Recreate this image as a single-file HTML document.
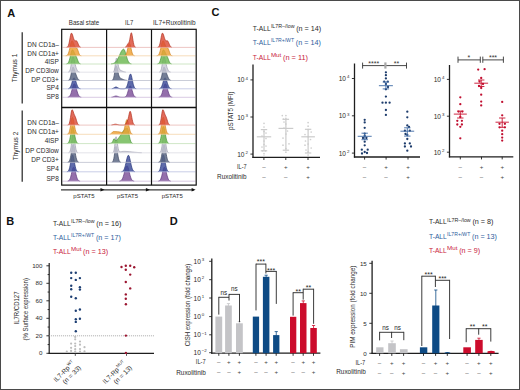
<!DOCTYPE html>
<html><head><meta charset="utf-8"><style>
html,body{margin:0;padding:0;background:#fff;}
svg{display:block;font-family:"Liberation Sans", sans-serif;}
</style></head><body>
<svg width="520" height="390" viewBox="0 0 520 390">
<rect x="0" y="0" width="520" height="390" fill="#fff"/>
<rect x="0.5" y="0.5" width="519" height="389" fill="none" stroke="#4a4a4a" stroke-width="1"/>
<text x="7.20" y="16.50" font-size="11" fill="#111" font-weight="bold">A</text>
<text x="6.20" y="224.90" font-size="11" fill="#111" font-weight="bold">B</text>
<text x="211.60" y="16.40" font-size="11" fill="#111" font-weight="bold">C</text>
<text x="169.80" y="224.70" font-size="11" fill="#111" font-weight="bold">D</text>
<text x="84.00" y="24.90" font-size="6.5" fill="#2b2b2b" text-anchor="middle" textLength="30.40" lengthAdjust="spacingAndGlyphs">Basal state</text>
<text x="129.20" y="24.90" font-size="6.5" fill="#2b2b2b" text-anchor="middle" textLength="8.20" lengthAdjust="spacingAndGlyphs">IL7</text>
<text x="174.30" y="24.90" font-size="6.5" fill="#2b2b2b" text-anchor="middle" textLength="42.60" lengthAdjust="spacingAndGlyphs">IL7+Ruxolitinib</text>
<path d="M67.7,97.20 L68.1,97.13 L68.5,97.00 L68.9,96.81 L69.3,96.51 L69.7,96.07 L70.1,95.47 L70.5,94.67 L70.9,93.66 L71.3,92.43 L71.7,91.03 L72.1,89.50 L72.5,87.95 L72.9,86.49 L73.3,85.25 L73.7,84.34 L74.1,83.86 L74.5,83.86 L74.9,84.29 L75.3,85.13 L75.7,86.27 L76.1,87.64 L76.5,89.11 L76.9,90.59 L77.3,91.97 L77.7,93.21 L78.1,94.26 L78.5,95.12 L78.9,95.78 L79.3,96.28 L79.7,96.64 L80.1,96.88 L80.5,97.05 L80.9,97.15 L81.3,97.21 L81.3,97.30 L67.7,97.30 Z" fill="#7d4f98" fill-opacity="0.82"/>
<path d="M67.7,97.20 L68.1,97.13 L68.5,97.00 L68.9,96.81 L69.3,96.51 L69.7,96.07 L70.1,95.47 L70.5,94.67 L70.9,93.66 L71.3,92.43 L71.7,91.03 L72.1,89.50 L72.5,87.95 L72.9,86.49 L73.3,85.25 L73.7,84.34 L74.1,83.86 L74.5,83.86 L74.9,84.29 L75.3,85.13 L75.7,86.27 L76.1,87.64 L76.5,89.11 L76.9,90.59 L77.3,91.97 L77.7,93.21 L78.1,94.26 L78.5,95.12 L78.9,95.78 L79.3,96.28 L79.7,96.64 L80.1,96.88 L80.5,97.05 L80.9,97.15 L81.3,97.21" fill="none" stroke="#5f377e" stroke-width="0.7"/>
<path d="M68.1,88.71 L68.5,88.63 L68.9,88.50 L69.3,88.28 L69.7,87.95 L70.1,87.46 L70.5,86.78 L70.9,85.89 L71.3,84.79 L71.7,83.51 L72.1,82.13 L72.5,80.75 L72.9,79.50 L73.3,78.52 L73.7,77.94 L74.1,77.81 L74.5,78.11 L74.9,78.77 L75.3,79.72 L75.7,80.87 L76.1,82.13 L76.5,83.38 L76.9,84.56 L77.3,85.60 L77.7,86.47 L78.1,87.16 L78.5,87.69 L78.9,88.08 L79.3,88.34 L79.7,88.52 L80.1,88.64 L80.5,88.71 L80.5,88.80 L68.1,88.80 Z" fill="#3a4b98" fill-opacity="0.82"/>
<path d="M68.1,88.71 L68.5,88.63 L68.9,88.50 L69.3,88.28 L69.7,87.95 L70.1,87.46 L70.5,86.78 L70.9,85.89 L71.3,84.79 L71.7,83.51 L72.1,82.13 L72.5,80.75 L72.9,79.50 L73.3,78.52 L73.7,77.94 L74.1,77.81 L74.5,78.11 L74.9,78.77 L75.3,79.72 L75.7,80.87 L76.1,82.13 L76.5,83.38 L76.9,84.56 L77.3,85.60 L77.7,86.47 L78.1,87.16 L78.5,87.69 L78.9,88.08 L79.3,88.34 L79.7,88.52 L80.1,88.64 L80.5,88.71" fill="none" stroke="#27357a" stroke-width="0.7"/>
<path d="M68.1,80.42 L68.5,80.32 L68.9,80.13 L69.3,79.77 L69.7,79.16 L70.1,78.22 L70.5,76.88 L70.9,75.15 L71.3,73.12 L71.7,71.01 L72.1,69.12 L72.5,67.76 L72.9,67.15 L73.3,67.22 L73.7,67.80 L74.1,68.75 L74.5,69.92 L74.9,71.20 L75.3,72.47 L75.7,73.68 L76.1,74.83 L76.5,75.90 L76.9,76.89 L77.3,77.78 L77.7,78.55 L78.1,79.17 L78.5,79.65 L78.9,79.99 L79.3,80.21 L79.7,80.35 L80.1,80.42 L80.1,80.50 L68.1,80.50 Z" fill="#56617f" fill-opacity="0.82"/>
<path d="M68.1,80.42 L68.5,80.32 L68.9,80.13 L69.3,79.77 L69.7,79.16 L70.1,78.22 L70.5,76.88 L70.9,75.15 L71.3,73.12 L71.7,71.01 L72.1,69.12 L72.5,67.76 L72.9,67.15 L73.3,67.22 L73.7,67.80 L74.1,68.75 L74.5,69.92 L74.9,71.20 L75.3,72.47 L75.7,73.68 L76.1,74.83 L76.5,75.90 L76.9,76.89 L77.3,77.78 L77.7,78.55 L78.1,79.17 L78.5,79.65 L78.9,79.99 L79.3,80.21 L79.7,80.35 L80.1,80.42" fill="none" stroke="#3e4863" stroke-width="0.7"/>
<path d="M68.1,72.15 L68.5,72.07 L68.9,71.89 L69.3,71.54 L69.7,70.91 L70.1,69.86 L70.5,68.30 L70.9,66.20 L71.3,63.69 L71.7,61.06 L72.1,58.73 L72.5,57.13 L72.9,56.56 L73.3,56.89 L73.7,57.93 L74.1,59.48 L74.5,61.27 L74.9,63.09 L75.3,64.80 L75.7,66.32 L76.1,67.64 L76.5,68.76 L76.9,69.70 L77.3,70.45 L77.7,71.04 L78.1,71.47 L78.5,71.77 L78.9,71.96 L79.3,72.07 L79.7,72.14 L79.7,72.20 L68.1,72.20 Z" fill="#c9c9d5" fill-opacity="0.82"/>
<path d="M68.1,72.15 L68.5,72.07 L68.9,71.89 L69.3,71.54 L69.7,70.91 L70.1,69.86 L70.5,68.30 L70.9,66.20 L71.3,63.69 L71.7,61.06 L72.1,58.73 L72.5,57.13 L72.9,56.56 L73.3,56.89 L73.7,57.93 L74.1,59.48 L74.5,61.27 L74.9,63.09 L75.3,64.80 L75.7,66.32 L76.1,67.64 L76.5,68.76 L76.9,69.70 L77.3,70.45 L77.7,71.04 L78.1,71.47 L78.5,71.77 L78.9,71.96 L79.3,72.07 L79.7,72.14" fill="none" stroke="#9d9daf" stroke-width="0.7"/>
<path d="M66.5,63.89 L66.9,63.79 L67.3,63.62 L67.7,63.34 L68.1,62.92 L68.5,62.30 L68.9,61.43 L69.3,60.30 L69.7,58.90 L70.1,57.27 L70.5,55.51 L70.9,53.74 L71.3,52.15 L71.7,50.89 L72.1,50.12 L72.5,49.90 L72.9,50.10 L73.3,50.62 L73.7,51.37 L74.1,52.23 L74.5,53.13 L74.9,53.98 L75.3,54.77 L75.7,55.53 L76.1,56.30 L76.5,57.14 L76.9,58.10 L77.3,59.16 L77.7,60.25 L78.1,61.27 L78.5,62.14 L78.9,62.82 L79.3,63.30 L79.7,63.62 L80.1,63.80 L80.5,63.90 L80.5,64.00 L66.5,64.00 Z" fill="#6cb852" fill-opacity="0.82"/>
<path d="M66.5,63.89 L66.9,63.79 L67.3,63.62 L67.7,63.34 L68.1,62.92 L68.5,62.30 L68.9,61.43 L69.3,60.30 L69.7,58.90 L70.1,57.27 L70.5,55.51 L70.9,53.74 L71.3,52.15 L71.7,50.89 L72.1,50.12 L72.5,49.90 L72.9,50.10 L73.3,50.62 L73.7,51.37 L74.1,52.23 L74.5,53.13 L74.9,53.98 L75.3,54.77 L75.7,55.53 L76.1,56.30 L76.5,57.14 L76.9,58.10 L77.3,59.16 L77.7,60.25 L78.1,61.27 L78.5,62.14 L78.9,62.82 L79.3,63.30 L79.7,63.62 L80.1,63.80 L80.5,63.90" fill="none" stroke="#479536" stroke-width="0.7"/>
<path d="M65.7,55.74 L66.1,55.68 L66.5,55.57 L66.9,55.39 L67.3,55.10 L67.7,54.64 L68.1,53.98 L68.5,53.05 L68.9,51.84 L69.3,50.33 L69.7,48.59 L70.1,46.70 L70.5,44.81 L70.9,43.11 L71.3,41.77 L71.7,40.96 L72.1,40.76 L72.5,41.04 L72.9,41.68 L73.3,42.60 L73.7,43.67 L74.1,44.75 L74.5,45.72 L74.9,46.49 L75.3,47.03 L75.7,47.37 L76.1,47.62 L76.5,47.87 L76.9,48.26 L77.3,48.88 L77.7,49.81 L78.1,50.95 L78.5,52.14 L78.9,53.24 L79.3,54.15 L79.7,54.81 L80.1,55.25 L80.5,55.52 L80.9,55.67 L81.3,55.74 L81.3,55.80 L65.7,55.80 Z" fill="#eea032" fill-opacity="0.82"/>
<path d="M65.7,55.74 L66.1,55.68 L66.5,55.57 L66.9,55.39 L67.3,55.10 L67.7,54.64 L68.1,53.98 L68.5,53.05 L68.9,51.84 L69.3,50.33 L69.7,48.59 L70.1,46.70 L70.5,44.81 L70.9,43.11 L71.3,41.77 L71.7,40.96 L72.1,40.76 L72.5,41.04 L72.9,41.68 L73.3,42.60 L73.7,43.67 L74.1,44.75 L74.5,45.72 L74.9,46.49 L75.3,47.03 L75.7,47.37 L76.1,47.62 L76.5,47.87 L76.9,48.26 L77.3,48.88 L77.7,49.81 L78.1,50.95 L78.5,52.14 L78.9,53.24 L79.3,54.15 L79.7,54.81 L80.1,55.25 L80.5,55.52 L80.9,55.67 L81.3,55.74" fill="none" stroke="#cf8420" stroke-width="0.7"/>
<path d="M66.5,47.33 L66.9,47.24 L67.3,47.06 L67.7,46.72 L68.1,46.14 L68.5,45.21 L68.9,43.86 L69.3,42.07 L69.7,39.93 L70.1,37.64 L70.5,35.53 L70.9,33.95 L71.3,33.19 L71.7,33.26 L72.1,33.86 L72.5,34.87 L72.9,36.12 L73.3,37.45 L73.7,38.67 L74.1,39.66 L74.5,40.33 L74.9,40.69 L75.3,40.80 L75.7,40.78 L76.1,40.76 L76.5,40.86 L76.9,41.20 L77.3,41.84 L77.7,42.72 L78.1,43.71 L78.5,44.68 L78.9,45.54 L79.3,46.21 L79.7,46.69 L80.1,47.00 L80.5,47.20 L80.9,47.30 L80.9,47.40 L66.5,47.40 Z" fill="#dc4a36" fill-opacity="0.82"/>
<path d="M66.5,47.33 L66.9,47.24 L67.3,47.06 L67.7,46.72 L68.1,46.14 L68.5,45.21 L68.9,43.86 L69.3,42.07 L69.7,39.93 L70.1,37.64 L70.5,35.53 L70.9,33.95 L71.3,33.19 L71.7,33.26 L72.1,33.86 L72.5,34.87 L72.9,36.12 L73.3,37.45 L73.7,38.67 L74.1,39.66 L74.5,40.33 L74.9,40.69 L75.3,40.80 L75.7,40.78 L76.1,40.76 L76.5,40.86 L76.9,41.20 L77.3,41.84 L77.7,42.72 L78.1,43.71 L78.5,44.68 L78.9,45.54 L79.3,46.21 L79.7,46.69 L80.1,47.00 L80.5,47.20 L80.9,47.30" fill="none" stroke="#b0301f" stroke-width="0.7"/>
<line x1="62.50" y1="47.40" x2="105.80" y2="47.40" stroke="#e6b0ab" stroke-width="0.9" stroke-opacity="0.8"/>
<line x1="62.50" y1="55.80" x2="105.80" y2="55.80" stroke="#f2d0a2" stroke-width="0.9" stroke-opacity="0.8"/>
<line x1="62.50" y1="64.00" x2="105.80" y2="64.00" stroke="#bcdcb0" stroke-width="0.9" stroke-opacity="0.8"/>
<line x1="62.50" y1="72.20" x2="105.80" y2="72.20" stroke="#d9d9e1" stroke-width="0.9" stroke-opacity="0.8"/>
<line x1="62.50" y1="80.50" x2="105.80" y2="80.50" stroke="#b5bac8" stroke-width="0.9" stroke-opacity="0.8"/>
<line x1="62.50" y1="88.80" x2="105.80" y2="88.80" stroke="#b3badc" stroke-width="0.9" stroke-opacity="0.8"/>
<line x1="62.50" y1="97.30" x2="105.80" y2="97.30" stroke="#ccb6d8" stroke-width="0.9" stroke-opacity="0.8"/>
<path d="M111.4,97.21 L111.8,97.16 L112.2,97.09 L112.6,96.99 L113.0,96.88 L113.4,96.74 L113.8,96.59 L114.2,96.43 L114.6,96.28 L115.0,96.15 L115.4,96.06 L115.8,96.01 L116.2,96.01 L116.6,96.06 L117.0,96.15 L117.4,96.28 L117.8,96.43 L118.2,96.59 L118.6,96.74 L119.0,96.88 L119.4,96.99 L119.8,97.09 L120.2,97.16 L120.6,97.21 L121.0,97.24 L121.4,97.27 L121.8,97.28 L122.2,97.29 L122.6,97.29 L123.0,97.29 L123.4,97.28 L123.8,97.26 L124.2,97.22 L124.6,97.15 L125.0,97.03 L125.4,96.83 L125.8,96.51 L126.2,96.05 L126.6,95.39 L127.0,94.52 L127.4,93.42 L127.8,92.12 L128.2,90.69 L128.6,89.23 L129.0,87.88 L129.4,86.78 L129.8,86.05 L130.2,85.80 L130.6,86.05 L131.0,86.78 L131.4,87.88 L131.8,89.23 L132.2,90.69 L132.6,92.12 L133.0,93.42 L133.4,94.52 L133.8,95.39 L134.2,96.05 L134.6,96.51 L135.0,96.83 L135.4,97.03 L135.8,97.15 L136.2,97.22 L136.2,97.30 L111.4,97.30 Z" fill="#7d4f98" fill-opacity="0.82"/>
<path d="M111.4,97.21 L111.8,97.16 L112.2,97.09 L112.6,96.99 L113.0,96.88 L113.4,96.74 L113.8,96.59 L114.2,96.43 L114.6,96.28 L115.0,96.15 L115.4,96.06 L115.8,96.01 L116.2,96.01 L116.6,96.06 L117.0,96.15 L117.4,96.28 L117.8,96.43 L118.2,96.59 L118.6,96.74 L119.0,96.88 L119.4,96.99 L119.8,97.09 L120.2,97.16 L120.6,97.21 L121.0,97.24 L121.4,97.27 L121.8,97.28 L122.2,97.29 L122.6,97.29 L123.0,97.29 L123.4,97.28 L123.8,97.26 L124.2,97.22 L124.6,97.15 L125.0,97.03 L125.4,96.83 L125.8,96.51 L126.2,96.05 L126.6,95.39 L127.0,94.52 L127.4,93.42 L127.8,92.12 L128.2,90.69 L128.6,89.23 L129.0,87.88 L129.4,86.78 L129.8,86.05 L130.2,85.80 L130.6,86.05 L131.0,86.78 L131.4,87.88 L131.8,89.23 L132.2,90.69 L132.6,92.12 L133.0,93.42 L133.4,94.52 L133.8,95.39 L134.2,96.05 L134.6,96.51 L135.0,96.83 L135.4,97.03 L135.8,97.15 L136.2,97.22" fill="none" stroke="#5f377e" stroke-width="0.7"/>
<path d="M111.8,88.68 L112.2,88.61 L112.6,88.50 L113.0,88.35 L113.4,88.17 L113.8,87.95 L114.2,87.71 L114.6,87.47 L115.0,87.26 L115.4,87.10 L115.8,87.01 L116.2,87.01 L116.6,87.10 L117.0,87.26 L117.4,87.47 L117.8,87.71 L118.2,87.95 L118.6,88.17 L119.0,88.35 L119.4,88.50 L119.8,88.61 L120.2,88.68 L120.6,88.73 L121.0,88.76 L121.4,88.78 L121.8,88.79 L122.2,88.79 L122.6,88.80 L123.0,88.79 L123.4,88.79 L123.8,88.77 L124.2,88.74 L124.6,88.68 L125.0,88.58 L125.4,88.40 L125.8,88.11 L126.2,87.66 L126.6,87.00 L127.0,86.09 L127.4,84.89 L127.8,83.41 L128.2,81.69 L128.6,79.82 L129.0,77.96 L129.4,76.28 L129.8,74.97 L130.2,74.18 L130.6,74.02 L131.0,74.56 L131.4,75.74 L131.8,77.40 L132.2,79.33 L132.6,81.31 L133.0,83.16 L133.4,84.76 L133.8,86.04 L134.2,87.01 L134.6,87.69 L135.0,88.15 L135.4,88.44 L135.8,88.61 L136.2,88.70 L136.2,88.80 L111.8,88.80 Z" fill="#3a4b98" fill-opacity="0.82"/>
<path d="M111.8,88.68 L112.2,88.61 L112.6,88.50 L113.0,88.35 L113.4,88.17 L113.8,87.95 L114.2,87.71 L114.6,87.47 L115.0,87.26 L115.4,87.10 L115.8,87.01 L116.2,87.01 L116.6,87.10 L117.0,87.26 L117.4,87.47 L117.8,87.71 L118.2,87.95 L118.6,88.17 L119.0,88.35 L119.4,88.50 L119.8,88.61 L120.2,88.68 L120.6,88.73 L121.0,88.76 L121.4,88.78 L121.8,88.79 L122.2,88.79 L122.6,88.80 L123.0,88.79 L123.4,88.79 L123.8,88.77 L124.2,88.74 L124.6,88.68 L125.0,88.58 L125.4,88.40 L125.8,88.11 L126.2,87.66 L126.6,87.00 L127.0,86.09 L127.4,84.89 L127.8,83.41 L128.2,81.69 L128.6,79.82 L129.0,77.96 L129.4,76.28 L129.8,74.97 L130.2,74.18 L130.6,74.02 L131.0,74.56 L131.4,75.74 L131.8,77.40 L132.2,79.33 L132.6,81.31 L133.0,83.16 L133.4,84.76 L133.8,86.04 L134.2,87.01 L134.6,87.69 L135.0,88.15 L135.4,88.44 L135.8,88.61 L136.2,88.70" fill="none" stroke="#27357a" stroke-width="0.7"/>
<path d="M111.8,80.40 L112.2,80.26 L112.6,79.98 L113.0,79.46 L113.4,78.58 L113.8,77.24 L114.2,75.39 L114.6,73.10 L115.0,70.63 L115.4,68.34 L115.8,66.66 L116.2,65.94 L116.6,66.22 L117.0,67.35 L117.4,69.07 L117.8,71.04 L118.2,72.96 L118.6,74.62 L119.0,75.92 L119.4,76.86 L119.8,77.53 L120.2,77.96 L120.6,78.25 L121.0,78.47 L121.4,78.67 L121.8,78.85 L122.2,79.03 L122.6,79.21 L123.0,79.39 L123.4,79.55 L123.8,79.71 L124.2,79.86 L124.6,79.98 L125.0,80.09 L125.4,80.18 L125.8,80.26 L126.2,80.32 L126.6,80.37 L127.0,80.40 L127.0,80.50 L111.8,80.50 Z" fill="#56617f" fill-opacity="0.82"/>
<path d="M111.8,80.40 L112.2,80.26 L112.6,79.98 L113.0,79.46 L113.4,78.58 L113.8,77.24 L114.2,75.39 L114.6,73.10 L115.0,70.63 L115.4,68.34 L115.8,66.66 L116.2,65.94 L116.6,66.22 L117.0,67.35 L117.4,69.07 L117.8,71.04 L118.2,72.96 L118.6,74.62 L119.0,75.92 L119.4,76.86 L119.8,77.53 L120.2,77.96 L120.6,78.25 L121.0,78.47 L121.4,78.67 L121.8,78.85 L122.2,79.03 L122.6,79.21 L123.0,79.39 L123.4,79.55 L123.8,79.71 L124.2,79.86 L124.6,79.98 L125.0,80.09 L125.4,80.18 L125.8,80.26 L126.2,80.32 L126.6,80.37 L127.0,80.40" fill="none" stroke="#3e4863" stroke-width="0.7"/>
<path d="M113.0,72.10 L113.4,71.93 L113.8,71.50 L114.2,70.62 L114.6,69.06 L115.0,66.71 L115.4,63.77 L115.8,60.81 L116.2,58.68 L116.6,58.04 L117.0,58.75 L117.4,60.42 L117.8,62.62 L118.2,64.84 L118.6,66.73 L119.0,68.14 L119.4,69.08 L119.8,69.68 L120.2,70.04 L120.6,70.29 L121.0,70.50 L121.4,70.69 L121.8,70.89 L122.2,71.08 L122.6,71.27 L123.0,71.45 L123.4,71.61 L123.8,71.74 L124.2,71.86 L124.6,71.95 L125.0,72.02 L125.4,72.08 L125.8,72.12 L125.8,72.20 L113.0,72.20 Z" fill="#c9c9d5" fill-opacity="0.82"/>
<path d="M113.0,72.10 L113.4,71.93 L113.8,71.50 L114.2,70.62 L114.6,69.06 L115.0,66.71 L115.4,63.77 L115.8,60.81 L116.2,58.68 L116.6,58.04 L117.0,58.75 L117.4,60.42 L117.8,62.62 L118.2,64.84 L118.6,66.73 L119.0,68.14 L119.4,69.08 L119.8,69.68 L120.2,70.04 L120.6,70.29 L121.0,70.50 L121.4,70.69 L121.8,70.89 L122.2,71.08 L122.6,71.27 L123.0,71.45 L123.4,71.61 L123.8,71.74 L124.2,71.86 L124.6,71.95 L125.0,72.02 L125.4,72.08 L125.8,72.12" fill="none" stroke="#9d9daf" stroke-width="0.7"/>
<path d="M111.0,63.90 L111.4,63.86 L111.8,63.81 L112.2,63.75 L112.6,63.66 L113.0,63.56 L113.4,63.43 L113.8,63.26 L114.2,63.06 L114.6,62.82 L115.0,62.53 L115.4,62.19 L115.8,61.79 L116.2,61.33 L116.6,60.80 L117.0,60.21 L117.4,59.55 L117.8,58.83 L118.2,58.05 L118.6,57.22 L119.0,56.36 L119.4,55.47 L119.8,54.57 L120.2,53.69 L120.6,52.83 L121.0,52.02 L121.4,51.28 L121.8,50.63 L122.2,50.08 L122.6,49.66 L123.0,49.37 L123.4,49.22 L123.8,49.25 L124.2,49.62 L124.6,50.34 L125.0,51.35 L125.4,52.58 L125.8,53.95 L126.2,55.38 L126.6,56.80 L127.0,58.13 L127.4,59.34 L127.8,60.39 L128.2,61.28 L128.6,62.00 L129.0,62.56 L129.4,63.00 L129.8,63.32 L130.2,63.55 L130.6,63.71 L131.0,63.81 L131.4,63.89 L131.4,64.00 L111.0,64.00 Z" fill="#6cb852" fill-opacity="0.82"/>
<path d="M111.0,63.90 L111.4,63.86 L111.8,63.81 L112.2,63.75 L112.6,63.66 L113.0,63.56 L113.4,63.43 L113.8,63.26 L114.2,63.06 L114.6,62.82 L115.0,62.53 L115.4,62.19 L115.8,61.79 L116.2,61.33 L116.6,60.80 L117.0,60.21 L117.4,59.55 L117.8,58.83 L118.2,58.05 L118.6,57.22 L119.0,56.36 L119.4,55.47 L119.8,54.57 L120.2,53.69 L120.6,52.83 L121.0,52.02 L121.4,51.28 L121.8,50.63 L122.2,50.08 L122.6,49.66 L123.0,49.37 L123.4,49.22 L123.8,49.25 L124.2,49.62 L124.6,50.34 L125.0,51.35 L125.4,52.58 L125.8,53.95 L126.2,55.38 L126.6,56.80 L127.0,58.13 L127.4,59.34 L127.8,60.39 L128.2,61.28 L128.6,62.00 L129.0,62.56 L129.4,63.00 L129.8,63.32 L130.2,63.55 L130.6,63.71 L131.0,63.81 L131.4,63.89" fill="none" stroke="#479536" stroke-width="0.7"/>
<path d="M124.2,55.74 L124.6,55.66 L125.0,55.52 L125.4,55.25 L125.8,54.81 L126.2,54.11 L126.6,53.10 L127.0,51.74 L127.4,50.08 L127.8,48.22 L128.2,46.36 L128.6,44.77 L129.0,43.68 L129.4,43.30 L129.8,43.68 L130.2,44.77 L130.6,46.36 L131.0,48.22 L131.4,50.08 L131.8,51.74 L132.2,53.10 L132.6,54.11 L133.0,54.81 L133.4,55.25 L133.8,55.52 L134.2,55.66 L134.6,55.74 L134.6,55.80 L124.2,55.80 Z" fill="#eea032" fill-opacity="0.82"/>
<path d="M124.2,55.74 L124.6,55.66 L125.0,55.52 L125.4,55.25 L125.8,54.81 L126.2,54.11 L126.6,53.10 L127.0,51.74 L127.4,50.08 L127.8,48.22 L128.2,46.36 L128.6,44.77 L129.0,43.68 L129.4,43.30 L129.8,43.68 L130.2,44.77 L130.6,46.36 L131.0,48.22 L131.4,50.08 L131.8,51.74 L132.2,53.10 L132.6,54.11 L133.0,54.81 L133.4,55.25 L133.8,55.52 L134.2,55.66 L134.6,55.74" fill="none" stroke="#cf8420" stroke-width="0.7"/>
<path d="M125.0,47.30 L125.4,47.17 L125.8,46.93 L126.2,46.53 L126.6,45.95 L127.0,45.25 L127.4,44.52 L127.8,43.88 L128.2,43.38 L128.6,42.94 L129.0,42.29 L129.4,41.14 L129.8,39.32 L130.2,37.00 L130.6,34.69 L131.0,33.12 L131.4,32.84 L131.8,33.76 L132.2,35.59 L132.6,37.97 L133.0,40.46 L133.4,42.69 L133.8,44.46 L134.2,45.70 L134.6,46.50 L135.0,46.96 L135.4,47.20 L135.8,47.32 L135.8,47.40 L125.0,47.40 Z" fill="#dc4a36" fill-opacity="0.82"/>
<path d="M125.0,47.30 L125.4,47.17 L125.8,46.93 L126.2,46.53 L126.6,45.95 L127.0,45.25 L127.4,44.52 L127.8,43.88 L128.2,43.38 L128.6,42.94 L129.0,42.29 L129.4,41.14 L129.8,39.32 L130.2,37.00 L130.6,34.69 L131.0,33.12 L131.4,32.84 L131.8,33.76 L132.2,35.59 L132.6,37.97 L133.0,40.46 L133.4,42.69 L133.8,44.46 L134.2,45.70 L134.6,46.50 L135.0,46.96 L135.4,47.20 L135.8,47.32" fill="none" stroke="#b0301f" stroke-width="0.7"/>
<line x1="107.40" y1="47.40" x2="150.70" y2="47.40" stroke="#e6b0ab" stroke-width="0.9" stroke-opacity="0.8"/>
<line x1="107.40" y1="55.80" x2="150.70" y2="55.80" stroke="#f2d0a2" stroke-width="0.9" stroke-opacity="0.8"/>
<line x1="107.40" y1="64.00" x2="150.70" y2="64.00" stroke="#bcdcb0" stroke-width="0.9" stroke-opacity="0.8"/>
<line x1="107.40" y1="72.20" x2="150.70" y2="72.20" stroke="#d9d9e1" stroke-width="0.9" stroke-opacity="0.8"/>
<line x1="107.40" y1="80.50" x2="150.70" y2="80.50" stroke="#b5bac8" stroke-width="0.9" stroke-opacity="0.8"/>
<line x1="107.40" y1="88.80" x2="150.70" y2="88.80" stroke="#b3badc" stroke-width="0.9" stroke-opacity="0.8"/>
<line x1="107.40" y1="97.30" x2="150.70" y2="97.30" stroke="#ccb6d8" stroke-width="0.9" stroke-opacity="0.8"/>
<path d="M158.7,97.20 L159.1,97.13 L159.5,97.00 L159.9,96.81 L160.3,96.51 L160.7,96.07 L161.1,95.47 L161.5,94.67 L161.9,93.66 L162.3,92.43 L162.7,91.03 L163.1,89.50 L163.5,87.95 L163.9,86.49 L164.3,85.25 L164.7,84.34 L165.1,83.86 L165.5,83.86 L165.9,84.29 L166.3,85.13 L166.7,86.27 L167.1,87.64 L167.5,89.11 L167.9,90.59 L168.3,91.97 L168.7,93.21 L169.1,94.26 L169.5,95.12 L169.9,95.78 L170.3,96.28 L170.7,96.64 L171.1,96.88 L171.5,97.05 L171.9,97.15 L172.3,97.21 L172.3,97.30 L158.7,97.30 Z" fill="#7d4f98" fill-opacity="0.82"/>
<path d="M158.7,97.20 L159.1,97.13 L159.5,97.00 L159.9,96.81 L160.3,96.51 L160.7,96.07 L161.1,95.47 L161.5,94.67 L161.9,93.66 L162.3,92.43 L162.7,91.03 L163.1,89.50 L163.5,87.95 L163.9,86.49 L164.3,85.25 L164.7,84.34 L165.1,83.86 L165.5,83.86 L165.9,84.29 L166.3,85.13 L166.7,86.27 L167.1,87.64 L167.5,89.11 L167.9,90.59 L168.3,91.97 L168.7,93.21 L169.1,94.26 L169.5,95.12 L169.9,95.78 L170.3,96.28 L170.7,96.64 L171.1,96.88 L171.5,97.05 L171.9,97.15 L172.3,97.21" fill="none" stroke="#5f377e" stroke-width="0.7"/>
<path d="M159.1,88.71 L159.5,88.63 L159.9,88.50 L160.3,88.28 L160.7,87.95 L161.1,87.46 L161.5,86.78 L161.9,85.89 L162.3,84.79 L162.7,83.51 L163.1,82.13 L163.5,80.75 L163.9,79.50 L164.3,78.52 L164.7,77.94 L165.1,77.81 L165.5,78.11 L165.9,78.77 L166.3,79.72 L166.7,80.87 L167.1,82.13 L167.5,83.38 L167.9,84.56 L168.3,85.60 L168.7,86.47 L169.1,87.16 L169.5,87.69 L169.9,88.08 L170.3,88.34 L170.7,88.52 L171.1,88.64 L171.5,88.71 L171.5,88.80 L159.1,88.80 Z" fill="#3a4b98" fill-opacity="0.82"/>
<path d="M159.1,88.71 L159.5,88.63 L159.9,88.50 L160.3,88.28 L160.7,87.95 L161.1,87.46 L161.5,86.78 L161.9,85.89 L162.3,84.79 L162.7,83.51 L163.1,82.13 L163.5,80.75 L163.9,79.50 L164.3,78.52 L164.7,77.94 L165.1,77.81 L165.5,78.11 L165.9,78.77 L166.3,79.72 L166.7,80.87 L167.1,82.13 L167.5,83.38 L167.9,84.56 L168.3,85.60 L168.7,86.47 L169.1,87.16 L169.5,87.69 L169.9,88.08 L170.3,88.34 L170.7,88.52 L171.1,88.64 L171.5,88.71" fill="none" stroke="#27357a" stroke-width="0.7"/>
<path d="M159.1,80.42 L159.5,80.32 L159.9,80.13 L160.3,79.77 L160.7,79.16 L161.1,78.22 L161.5,76.88 L161.9,75.15 L162.3,73.12 L162.7,71.01 L163.1,69.12 L163.5,67.76 L163.9,67.15 L164.3,67.22 L164.7,67.80 L165.1,68.75 L165.5,69.92 L165.9,71.20 L166.3,72.47 L166.7,73.68 L167.1,74.83 L167.5,75.90 L167.9,76.89 L168.3,77.78 L168.7,78.55 L169.1,79.17 L169.5,79.65 L169.9,79.99 L170.3,80.21 L170.7,80.35 L171.1,80.42 L171.1,80.50 L159.1,80.50 Z" fill="#56617f" fill-opacity="0.82"/>
<path d="M159.1,80.42 L159.5,80.32 L159.9,80.13 L160.3,79.77 L160.7,79.16 L161.1,78.22 L161.5,76.88 L161.9,75.15 L162.3,73.12 L162.7,71.01 L163.1,69.12 L163.5,67.76 L163.9,67.15 L164.3,67.22 L164.7,67.80 L165.1,68.75 L165.5,69.92 L165.9,71.20 L166.3,72.47 L166.7,73.68 L167.1,74.83 L167.5,75.90 L167.9,76.89 L168.3,77.78 L168.7,78.55 L169.1,79.17 L169.5,79.65 L169.9,79.99 L170.3,80.21 L170.7,80.35 L171.1,80.42" fill="none" stroke="#3e4863" stroke-width="0.7"/>
<path d="M159.1,72.15 L159.5,72.07 L159.9,71.89 L160.3,71.54 L160.7,70.91 L161.1,69.86 L161.5,68.30 L161.9,66.20 L162.3,63.69 L162.7,61.06 L163.1,58.73 L163.5,57.13 L163.9,56.56 L164.3,56.89 L164.7,57.93 L165.1,59.48 L165.5,61.27 L165.9,63.09 L166.3,64.80 L166.7,66.32 L167.1,67.64 L167.5,68.76 L167.9,69.70 L168.3,70.45 L168.7,71.04 L169.1,71.47 L169.5,71.77 L169.9,71.96 L170.3,72.07 L170.7,72.14 L170.7,72.20 L159.1,72.20 Z" fill="#c9c9d5" fill-opacity="0.82"/>
<path d="M159.1,72.15 L159.5,72.07 L159.9,71.89 L160.3,71.54 L160.7,70.91 L161.1,69.86 L161.5,68.30 L161.9,66.20 L162.3,63.69 L162.7,61.06 L163.1,58.73 L163.5,57.13 L163.9,56.56 L164.3,56.89 L164.7,57.93 L165.1,59.48 L165.5,61.27 L165.9,63.09 L166.3,64.80 L166.7,66.32 L167.1,67.64 L167.5,68.76 L167.9,69.70 L168.3,70.45 L168.7,71.04 L169.1,71.47 L169.5,71.77 L169.9,71.96 L170.3,72.07 L170.7,72.14" fill="none" stroke="#9d9daf" stroke-width="0.7"/>
<path d="M157.5,63.89 L157.9,63.79 L158.3,63.62 L158.7,63.34 L159.1,62.92 L159.5,62.30 L159.9,61.43 L160.3,60.30 L160.7,58.90 L161.1,57.27 L161.5,55.51 L161.9,53.74 L162.3,52.15 L162.7,50.89 L163.1,50.12 L163.5,49.90 L163.9,50.10 L164.3,50.62 L164.7,51.37 L165.1,52.23 L165.5,53.13 L165.9,53.98 L166.3,54.77 L166.7,55.53 L167.1,56.30 L167.5,57.14 L167.9,58.10 L168.3,59.16 L168.7,60.25 L169.1,61.27 L169.5,62.14 L169.9,62.82 L170.3,63.30 L170.7,63.62 L171.1,63.80 L171.5,63.90 L171.5,64.00 L157.5,64.00 Z" fill="#6cb852" fill-opacity="0.82"/>
<path d="M157.5,63.89 L157.9,63.79 L158.3,63.62 L158.7,63.34 L159.1,62.92 L159.5,62.30 L159.9,61.43 L160.3,60.30 L160.7,58.90 L161.1,57.27 L161.5,55.51 L161.9,53.74 L162.3,52.15 L162.7,50.89 L163.1,50.12 L163.5,49.90 L163.9,50.10 L164.3,50.62 L164.7,51.37 L165.1,52.23 L165.5,53.13 L165.9,53.98 L166.3,54.77 L166.7,55.53 L167.1,56.30 L167.5,57.14 L167.9,58.10 L168.3,59.16 L168.7,60.25 L169.1,61.27 L169.5,62.14 L169.9,62.82 L170.3,63.30 L170.7,63.62 L171.1,63.80 L171.5,63.90" fill="none" stroke="#479536" stroke-width="0.7"/>
<path d="M156.7,55.74 L157.1,55.68 L157.5,55.57 L157.9,55.39 L158.3,55.10 L158.7,54.64 L159.1,53.98 L159.5,53.05 L159.9,51.84 L160.3,50.33 L160.7,48.59 L161.1,46.70 L161.5,44.81 L161.9,43.11 L162.3,41.77 L162.7,40.96 L163.1,40.76 L163.5,41.04 L163.9,41.68 L164.3,42.60 L164.7,43.67 L165.1,44.75 L165.5,45.72 L165.9,46.49 L166.3,47.03 L166.7,47.37 L167.1,47.62 L167.5,47.87 L167.9,48.26 L168.3,48.88 L168.7,49.81 L169.1,50.95 L169.5,52.14 L169.9,53.24 L170.3,54.15 L170.7,54.81 L171.1,55.25 L171.5,55.52 L171.9,55.67 L172.3,55.74 L172.3,55.80 L156.7,55.80 Z" fill="#eea032" fill-opacity="0.82"/>
<path d="M156.7,55.74 L157.1,55.68 L157.5,55.57 L157.9,55.39 L158.3,55.10 L158.7,54.64 L159.1,53.98 L159.5,53.05 L159.9,51.84 L160.3,50.33 L160.7,48.59 L161.1,46.70 L161.5,44.81 L161.9,43.11 L162.3,41.77 L162.7,40.96 L163.1,40.76 L163.5,41.04 L163.9,41.68 L164.3,42.60 L164.7,43.67 L165.1,44.75 L165.5,45.72 L165.9,46.49 L166.3,47.03 L166.7,47.37 L167.1,47.62 L167.5,47.87 L167.9,48.26 L168.3,48.88 L168.7,49.81 L169.1,50.95 L169.5,52.14 L169.9,53.24 L170.3,54.15 L170.7,54.81 L171.1,55.25 L171.5,55.52 L171.9,55.67 L172.3,55.74" fill="none" stroke="#cf8420" stroke-width="0.7"/>
<path d="M157.5,47.33 L157.9,47.24 L158.3,47.06 L158.7,46.72 L159.1,46.14 L159.5,45.21 L159.9,43.86 L160.3,42.07 L160.7,39.93 L161.1,37.64 L161.5,35.53 L161.9,33.95 L162.3,33.19 L162.7,33.26 L163.1,33.86 L163.5,34.87 L163.9,36.12 L164.3,37.45 L164.7,38.67 L165.1,39.66 L165.5,40.33 L165.9,40.69 L166.3,40.80 L166.7,40.78 L167.1,40.76 L167.5,40.86 L167.9,41.20 L168.3,41.84 L168.7,42.72 L169.1,43.71 L169.5,44.68 L169.9,45.54 L170.3,46.21 L170.7,46.69 L171.1,47.00 L171.5,47.20 L171.9,47.30 L171.9,47.40 L157.5,47.40 Z" fill="#dc4a36" fill-opacity="0.82"/>
<path d="M157.5,47.33 L157.9,47.24 L158.3,47.06 L158.7,46.72 L159.1,46.14 L159.5,45.21 L159.9,43.86 L160.3,42.07 L160.7,39.93 L161.1,37.64 L161.5,35.53 L161.9,33.95 L162.3,33.19 L162.7,33.26 L163.1,33.86 L163.5,34.87 L163.9,36.12 L164.3,37.45 L164.7,38.67 L165.1,39.66 L165.5,40.33 L165.9,40.69 L166.3,40.80 L166.7,40.78 L167.1,40.76 L167.5,40.86 L167.9,41.20 L168.3,41.84 L168.7,42.72 L169.1,43.71 L169.5,44.68 L169.9,45.54 L170.3,46.21 L170.7,46.69 L171.1,47.00 L171.5,47.20 L171.9,47.30" fill="none" stroke="#b0301f" stroke-width="0.7"/>
<line x1="152.30" y1="47.40" x2="195.40" y2="47.40" stroke="#e6b0ab" stroke-width="0.9" stroke-opacity="0.8"/>
<line x1="152.30" y1="55.80" x2="195.40" y2="55.80" stroke="#f2d0a2" stroke-width="0.9" stroke-opacity="0.8"/>
<line x1="152.30" y1="64.00" x2="195.40" y2="64.00" stroke="#bcdcb0" stroke-width="0.9" stroke-opacity="0.8"/>
<line x1="152.30" y1="72.20" x2="195.40" y2="72.20" stroke="#d9d9e1" stroke-width="0.9" stroke-opacity="0.8"/>
<line x1="152.30" y1="80.50" x2="195.40" y2="80.50" stroke="#b5bac8" stroke-width="0.9" stroke-opacity="0.8"/>
<line x1="152.30" y1="88.80" x2="195.40" y2="88.80" stroke="#b3badc" stroke-width="0.9" stroke-opacity="0.8"/>
<line x1="152.30" y1="97.30" x2="195.40" y2="97.30" stroke="#ccb6d8" stroke-width="0.9" stroke-opacity="0.8"/>
<path d="M67.7,181.09 L68.1,180.99 L68.5,180.82 L68.9,180.54 L69.3,180.12 L69.7,179.50 L70.1,178.63 L70.5,177.50 L70.9,176.10 L71.3,174.47 L71.7,172.71 L72.1,170.95 L72.5,169.36 L72.9,168.12 L73.3,167.37 L73.7,167.22 L74.1,167.63 L74.5,168.55 L74.9,169.87 L75.3,171.44 L75.7,173.13 L76.1,174.79 L76.5,176.31 L76.9,177.61 L77.3,178.67 L77.7,179.49 L78.1,180.09 L78.5,180.50 L78.9,180.78 L79.3,180.96 L79.7,181.07 L80.1,181.13 L80.1,181.20 L67.7,181.20 Z" fill="#7d4f98" fill-opacity="0.82"/>
<path d="M67.7,181.09 L68.1,180.99 L68.5,180.82 L68.9,180.54 L69.3,180.12 L69.7,179.50 L70.1,178.63 L70.5,177.50 L70.9,176.10 L71.3,174.47 L71.7,172.71 L72.1,170.95 L72.5,169.36 L72.9,168.12 L73.3,167.37 L73.7,167.22 L74.1,167.63 L74.5,168.55 L74.9,169.87 L75.3,171.44 L75.7,173.13 L76.1,174.79 L76.5,176.31 L76.9,177.61 L77.3,178.67 L77.7,179.49 L78.1,180.09 L78.5,180.50 L78.9,180.78 L79.3,180.96 L79.7,181.07 L80.1,181.13" fill="none" stroke="#5f377e" stroke-width="0.7"/>
<path d="M66.9,171.73 L67.3,171.64 L67.7,171.48 L68.1,171.20 L68.5,170.73 L68.9,169.99 L69.3,168.91 L69.7,167.42 L70.1,165.52 L70.5,163.29 L70.9,160.88 L71.3,158.55 L71.7,156.58 L72.1,155.26 L72.5,154.80 L72.9,155.21 L73.3,156.40 L73.7,158.19 L74.1,160.35 L74.5,162.63 L74.9,164.81 L75.3,166.73 L75.7,168.30 L76.1,169.50 L76.5,170.36 L76.9,170.94 L77.3,171.31 L77.7,171.54 L78.1,171.67 L78.5,171.73 L78.5,171.80 L66.9,171.80 Z" fill="#3a4b98" fill-opacity="0.82"/>
<path d="M66.9,171.73 L67.3,171.64 L67.7,171.48 L68.1,171.20 L68.5,170.73 L68.9,169.99 L69.3,168.91 L69.7,167.42 L70.1,165.52 L70.5,163.29 L70.9,160.88 L71.3,158.55 L71.7,156.58 L72.1,155.26 L72.5,154.80 L72.9,155.21 L73.3,156.40 L73.7,158.19 L74.1,160.35 L74.5,162.63 L74.9,164.81 L75.3,166.73 L75.7,168.30 L76.1,169.50 L76.5,170.36 L76.9,170.94 L77.3,171.31 L77.7,171.54 L78.1,171.67 L78.5,171.73" fill="none" stroke="#27357a" stroke-width="0.7"/>
<path d="M67.7,162.30 L68.1,162.20 L68.5,162.01 L68.9,161.67 L69.3,161.10 L69.7,160.24 L70.1,158.99 L70.5,157.30 L70.9,155.19 L71.3,152.76 L71.7,150.20 L72.1,147.80 L72.5,145.86 L72.9,144.68 L73.3,144.43 L73.7,145.08 L74.1,146.52 L74.5,148.53 L74.9,150.88 L75.3,153.29 L75.7,155.54 L76.1,157.48 L76.5,159.05 L76.9,160.22 L77.3,161.06 L77.7,161.61 L78.1,161.96 L78.5,162.16 L78.9,162.28 L78.9,162.40 L67.7,162.40 Z" fill="#56617f" fill-opacity="0.82"/>
<path d="M67.7,162.30 L68.1,162.20 L68.5,162.01 L68.9,161.67 L69.3,161.10 L69.7,160.24 L70.1,158.99 L70.5,157.30 L70.9,155.19 L71.3,152.76 L71.7,150.20 L72.1,147.80 L72.5,145.86 L72.9,144.68 L73.3,144.43 L73.7,145.08 L74.1,146.52 L74.5,148.53 L74.9,150.88 L75.3,153.29 L75.7,155.54 L76.1,157.48 L76.5,159.05 L76.9,160.22 L77.3,161.06 L77.7,161.61 L78.1,161.96 L78.5,162.16 L78.9,162.28" fill="none" stroke="#3e4863" stroke-width="0.7"/>
<path d="M68.5,152.73 L68.9,152.63 L69.3,152.41 L69.7,151.97 L70.1,151.16 L70.5,149.84 L70.9,147.87 L71.3,145.24 L71.7,142.10 L72.1,138.85 L72.5,136.03 L72.9,134.23 L73.3,133.84 L73.7,134.83 L74.1,136.93 L74.5,139.75 L74.9,142.80 L75.3,145.67 L75.7,148.06 L76.1,149.87 L76.5,151.11 L76.9,151.89 L77.3,152.35 L77.7,152.59 L78.1,152.71 L78.1,152.80 L68.5,152.80 Z" fill="#c9c9d5" fill-opacity="0.82"/>
<path d="M68.5,152.73 L68.9,152.63 L69.3,152.41 L69.7,151.97 L70.1,151.16 L70.5,149.84 L70.9,147.87 L71.3,145.24 L71.7,142.10 L72.1,138.85 L72.5,136.03 L72.9,134.23 L73.3,133.84 L73.7,134.83 L74.1,136.93 L74.5,139.75 L74.9,142.80 L75.3,145.67 L75.7,148.06 L76.1,149.87 L76.5,151.11 L76.9,151.89 L77.3,152.35 L77.7,152.59 L78.1,152.71" fill="none" stroke="#9d9daf" stroke-width="0.7"/>
<path d="M66.9,143.54 L67.3,143.47 L67.7,143.33 L68.1,143.09 L68.5,142.67 L68.9,142.01 L69.3,141.02 L69.7,139.63 L70.1,137.83 L70.5,135.67 L70.9,133.29 L71.3,130.91 L71.7,128.82 L72.1,127.32 L72.5,126.63 L72.9,126.83 L73.3,127.84 L73.7,129.50 L74.1,131.59 L74.5,133.86 L74.9,136.09 L75.3,138.08 L75.7,139.74 L76.1,141.03 L76.5,141.97 L76.9,142.62 L77.3,143.04 L77.7,143.29 L78.1,143.44 L78.5,143.52 L78.5,143.60 L66.9,143.60 Z" fill="#6cb852" fill-opacity="0.82"/>
<path d="M66.9,143.54 L67.3,143.47 L67.7,143.33 L68.1,143.09 L68.5,142.67 L68.9,142.01 L69.3,141.02 L69.7,139.63 L70.1,137.83 L70.5,135.67 L70.9,133.29 L71.3,130.91 L71.7,128.82 L72.1,127.32 L72.5,126.63 L72.9,126.83 L73.3,127.84 L73.7,129.50 L74.1,131.59 L74.5,133.86 L74.9,136.09 L75.3,138.08 L75.7,139.74 L76.1,141.03 L76.5,141.97 L76.9,142.62 L77.3,143.04 L77.7,143.29 L78.1,143.44 L78.5,143.52" fill="none" stroke="#479536" stroke-width="0.7"/>
<path d="M67.3,134.19 L67.7,134.07 L68.1,133.84 L68.5,133.43 L68.9,132.75 L69.3,131.70 L69.7,130.21 L70.1,128.25 L70.5,125.90 L70.9,123.35 L71.3,120.88 L71.7,118.85 L72.1,117.60 L72.5,117.33 L72.9,117.94 L73.3,119.30 L73.7,121.20 L74.1,123.42 L74.5,125.69 L74.9,127.82 L75.3,129.66 L75.7,131.13 L76.1,132.24 L76.5,133.03 L76.9,133.55 L77.3,133.88 L77.7,134.08 L78.1,134.19 L78.1,134.30 L67.3,134.30 Z" fill="#eea032" fill-opacity="0.82"/>
<path d="M67.3,134.19 L67.7,134.07 L68.1,133.84 L68.5,133.43 L68.9,132.75 L69.3,131.70 L69.7,130.21 L70.1,128.25 L70.5,125.90 L70.9,123.35 L71.3,120.88 L71.7,118.85 L72.1,117.60 L72.5,117.33 L72.9,117.94 L73.3,119.30 L73.7,121.20 L74.1,123.42 L74.5,125.69 L74.9,127.82 L75.3,129.66 L75.7,131.13 L76.1,132.24 L76.5,133.03 L76.9,133.55 L77.3,133.88 L77.7,134.08 L78.1,134.19" fill="none" stroke="#cf8420" stroke-width="0.7"/>
<path d="M67.7,125.04 L68.1,124.93 L68.5,124.70 L68.9,124.23 L69.3,123.36 L69.7,121.96 L70.1,119.94 L70.5,117.38 L70.9,114.58 L71.3,112.04 L71.7,110.31 L72.1,109.75 L72.5,110.03 L72.9,110.84 L73.3,111.95 L73.7,113.13 L74.1,114.21 L74.5,115.13 L74.9,115.97 L75.3,116.84 L75.7,117.85 L76.1,119.09 L76.5,120.45 L76.9,121.78 L77.3,122.92 L77.7,123.79 L78.1,124.38 L78.5,124.74 L78.9,124.94 L79.3,125.03 L79.3,125.10 L67.7,125.10 Z" fill="#dc4a36" fill-opacity="0.82"/>
<path d="M67.7,125.04 L68.1,124.93 L68.5,124.70 L68.9,124.23 L69.3,123.36 L69.7,121.96 L70.1,119.94 L70.5,117.38 L70.9,114.58 L71.3,112.04 L71.7,110.31 L72.1,109.75 L72.5,110.03 L72.9,110.84 L73.3,111.95 L73.7,113.13 L74.1,114.21 L74.5,115.13 L74.9,115.97 L75.3,116.84 L75.7,117.85 L76.1,119.09 L76.5,120.45 L76.9,121.78 L77.3,122.92 L77.7,123.79 L78.1,124.38 L78.5,124.74 L78.9,124.94 L79.3,125.03" fill="none" stroke="#b0301f" stroke-width="0.7"/>
<line x1="62.50" y1="125.10" x2="105.80" y2="125.10" stroke="#e6b0ab" stroke-width="0.9" stroke-opacity="0.8"/>
<line x1="62.50" y1="134.30" x2="105.80" y2="134.30" stroke="#f2d0a2" stroke-width="0.9" stroke-opacity="0.8"/>
<line x1="62.50" y1="143.60" x2="105.80" y2="143.60" stroke="#bcdcb0" stroke-width="0.9" stroke-opacity="0.8"/>
<line x1="62.50" y1="152.80" x2="105.80" y2="152.80" stroke="#d9d9e1" stroke-width="0.9" stroke-opacity="0.8"/>
<line x1="62.50" y1="162.40" x2="105.80" y2="162.40" stroke="#b5bac8" stroke-width="0.9" stroke-opacity="0.8"/>
<line x1="62.50" y1="171.80" x2="105.80" y2="171.80" stroke="#b3badc" stroke-width="0.9" stroke-opacity="0.8"/>
<line x1="62.50" y1="181.20" x2="105.80" y2="181.20" stroke="#ccb6d8" stroke-width="0.9" stroke-opacity="0.8"/>
<path d="M119.4,181.10 L119.8,181.03 L120.2,180.92 L120.6,180.76 L121.0,180.52 L121.4,180.18 L121.8,179.72 L122.2,179.10 L122.6,178.31 L123.0,177.34 L123.4,176.17 L123.8,174.83 L124.2,173.35 L124.6,171.80 L125.0,170.25 L125.4,168.79 L125.8,167.52 L126.2,166.54 L126.6,165.91 L127.0,165.70 L127.4,165.95 L127.8,166.69 L128.2,167.84 L128.6,169.30 L129.0,170.95 L129.4,172.65 L129.8,174.30 L130.2,175.82 L130.6,177.14 L131.0,178.23 L131.4,179.10 L131.8,179.77 L132.2,180.25 L132.6,180.59 L133.0,180.82 L133.4,180.97 L133.8,181.07 L134.2,181.13 L134.2,181.20 L119.4,181.20 Z" fill="#7d4f98" fill-opacity="0.82"/>
<path d="M119.4,181.10 L119.8,181.03 L120.2,180.92 L120.6,180.76 L121.0,180.52 L121.4,180.18 L121.8,179.72 L122.2,179.10 L122.6,178.31 L123.0,177.34 L123.4,176.17 L123.8,174.83 L124.2,173.35 L124.6,171.80 L125.0,170.25 L125.4,168.79 L125.8,167.52 L126.2,166.54 L126.6,165.91 L127.0,165.70 L127.4,165.95 L127.8,166.69 L128.2,167.84 L128.6,169.30 L129.0,170.95 L129.4,172.65 L129.8,174.30 L130.2,175.82 L130.6,177.14 L131.0,178.23 L131.4,179.10 L131.8,179.77 L132.2,180.25 L132.6,180.59 L133.0,180.82 L133.4,180.97 L133.8,181.07 L134.2,181.13" fill="none" stroke="#5f377e" stroke-width="0.7"/>
<path d="M121.4,171.70 L121.8,171.62 L122.2,171.49 L122.6,171.29 L123.0,170.99 L123.4,170.55 L123.8,169.95 L124.2,169.13 L124.6,168.09 L125.0,166.80 L125.4,165.29 L125.8,163.59 L126.2,161.79 L126.6,159.99 L127.0,158.32 L127.4,156.92 L127.8,155.90 L128.2,155.37 L128.6,155.37 L129.0,155.96 L129.4,157.07 L129.8,158.59 L130.2,160.37 L130.6,162.27 L131.0,164.13 L131.4,165.85 L131.8,167.35 L132.2,168.59 L132.6,169.57 L133.0,170.30 L133.4,170.83 L133.8,171.20 L134.2,171.44 L134.6,171.59 L135.0,171.68 L135.0,171.80 L121.4,171.80 Z" fill="#3a4b98" fill-opacity="0.82"/>
<path d="M121.4,171.70 L121.8,171.62 L122.2,171.49 L122.6,171.29 L123.0,170.99 L123.4,170.55 L123.8,169.95 L124.2,169.13 L124.6,168.09 L125.0,166.80 L125.4,165.29 L125.8,163.59 L126.2,161.79 L126.6,159.99 L127.0,158.32 L127.4,156.92 L127.8,155.90 L128.2,155.37 L128.6,155.37 L129.0,155.96 L129.4,157.07 L129.8,158.59 L130.2,160.37 L130.6,162.27 L131.0,164.13 L131.4,165.85 L131.8,167.35 L132.2,168.59 L132.6,169.57 L133.0,170.30 L133.4,170.83 L133.8,171.20 L134.2,171.44 L134.6,171.59 L135.0,171.68" fill="none" stroke="#27357a" stroke-width="0.7"/>
<path d="M111.8,162.31 L112.2,162.18 L112.6,161.88 L113.0,161.28 L113.4,160.23 L113.8,158.58 L114.2,156.27 L114.6,153.44 L115.0,150.50 L115.4,148.02 L115.8,146.59 L116.2,146.54 L116.6,147.63 L117.0,149.59 L117.4,152.05 L117.8,154.61 L118.2,156.94 L118.6,158.84 L119.0,160.23 L119.4,161.17 L119.8,161.75 L120.2,162.08 L120.6,162.25 L121.0,162.34 L121.0,162.40 L111.8,162.40 Z" fill="#56617f" fill-opacity="0.82"/>
<path d="M111.8,162.31 L112.2,162.18 L112.6,161.88 L113.0,161.28 L113.4,160.23 L113.8,158.58 L114.2,156.27 L114.6,153.44 L115.0,150.50 L115.4,148.02 L115.8,146.59 L116.2,146.54 L116.6,147.63 L117.0,149.59 L117.4,152.05 L117.8,154.61 L118.2,156.94 L118.6,158.84 L119.0,160.23 L119.4,161.17 L119.8,161.75 L120.2,162.08 L120.6,162.25 L121.0,162.34" fill="none" stroke="#3e4863" stroke-width="0.7"/>
<path d="M112.6,152.73 L113.0,152.59 L113.4,152.21 L113.8,151.32 L114.2,149.56 L114.6,146.71 L115.0,142.98 L115.4,139.30 L115.8,136.95 L116.2,136.78 L116.6,138.16 L117.0,140.59 L117.4,143.48 L117.8,146.24 L118.2,148.49 L118.6,150.07 L119.0,151.04 L119.4,151.55 L119.8,151.77 L120.2,151.82 L120.6,151.79 L121.0,151.73 L121.4,151.66 L121.8,151.60 L122.2,151.53 L122.6,151.48 L123.0,151.44 L123.4,151.42 L123.8,151.40 L124.2,151.40 L124.6,151.40 L125.0,151.41 L125.4,151.42 L125.8,151.43 L126.2,151.45 L126.6,151.47 L127.0,151.50 L127.4,151.52 L127.8,151.55 L128.2,151.58 L128.6,151.61 L129.0,151.65 L129.4,151.69 L129.8,151.72 L130.2,151.76 L130.6,151.80 L131.0,151.85 L131.4,151.89 L131.8,151.93 L132.2,151.97 L132.6,152.01 L133.0,152.06 L133.4,152.10 L133.8,152.14 L134.2,152.18 L134.6,152.22 L135.0,152.26 L135.4,152.29 L135.8,152.33 L136.2,152.36 L136.6,152.39 L137.0,152.43 L137.4,152.46 L137.8,152.48 L138.2,152.51 L138.6,152.54 L139.0,152.56 L139.4,152.58 L139.8,152.60 L140.2,152.62 L140.6,152.64 L141.0,152.65 L141.4,152.67 L141.8,152.68 L141.8,152.80 L112.6,152.80 Z" fill="#c9c9d5" fill-opacity="0.82"/>
<path d="M112.6,152.73 L113.0,152.59 L113.4,152.21 L113.8,151.32 L114.2,149.56 L114.6,146.71 L115.0,142.98 L115.4,139.30 L115.8,136.95 L116.2,136.78 L116.6,138.16 L117.0,140.59 L117.4,143.48 L117.8,146.24 L118.2,148.49 L118.6,150.07 L119.0,151.04 L119.4,151.55 L119.8,151.77 L120.2,151.82 L120.6,151.79 L121.0,151.73 L121.4,151.66 L121.8,151.60 L122.2,151.53 L122.6,151.48 L123.0,151.44 L123.4,151.42 L123.8,151.40 L124.2,151.40 L124.6,151.40 L125.0,151.41 L125.4,151.42 L125.8,151.43 L126.2,151.45 L126.6,151.47 L127.0,151.50 L127.4,151.52 L127.8,151.55 L128.2,151.58 L128.6,151.61 L129.0,151.65 L129.4,151.69 L129.8,151.72 L130.2,151.76 L130.6,151.80 L131.0,151.85 L131.4,151.89 L131.8,151.93 L132.2,151.97 L132.6,152.01 L133.0,152.06 L133.4,152.10 L133.8,152.14 L134.2,152.18 L134.6,152.22 L135.0,152.26 L135.4,152.29 L135.8,152.33 L136.2,152.36 L136.6,152.39 L137.0,152.43 L137.4,152.46 L137.8,152.48 L138.2,152.51 L138.6,152.54 L139.0,152.56 L139.4,152.58 L139.8,152.60 L140.2,152.62 L140.6,152.64 L141.0,152.65 L141.4,152.67 L141.8,152.68" fill="none" stroke="#9d9daf" stroke-width="0.7"/>
<path d="M108.2,143.50 L108.6,143.47 L109.0,143.44 L109.4,143.41 L109.8,143.37 L110.2,143.32 L110.6,143.26 L111.0,143.18 L111.4,143.06 L111.8,142.85 L112.2,142.45 L112.6,141.75 L113.0,140.77 L113.4,139.70 L113.8,138.91 L114.2,138.70 L114.6,139.09 L115.0,139.75 L115.4,140.32 L115.8,140.58 L116.2,140.54 L116.6,140.29 L117.0,139.93 L117.4,139.51 L117.8,139.06 L118.2,138.57 L118.6,138.05 L119.0,137.51 L119.4,136.94 L119.8,136.36 L120.2,135.75 L120.6,135.14 L121.0,134.51 L121.4,133.89 L121.8,133.26 L122.2,132.65 L122.6,132.05 L123.0,131.47 L123.4,130.92 L123.8,130.40 L124.2,129.92 L124.6,129.49 L125.0,129.11 L125.4,128.78 L125.8,128.52 L126.2,128.31 L126.6,128.18 L127.0,128.11 L127.4,128.20 L127.8,128.94 L128.2,130.32 L128.6,132.15 L129.0,134.20 L129.4,136.26 L129.8,138.14 L130.2,139.74 L130.6,141.00 L131.0,141.93 L131.4,142.58 L131.8,143.01 L132.2,143.27 L132.6,143.43 L133.0,143.51 L133.0,143.60 L108.2,143.60 Z" fill="#6cb852" fill-opacity="0.82"/>
<path d="M108.2,143.50 L108.6,143.47 L109.0,143.44 L109.4,143.41 L109.8,143.37 L110.2,143.32 L110.6,143.26 L111.0,143.18 L111.4,143.06 L111.8,142.85 L112.2,142.45 L112.6,141.75 L113.0,140.77 L113.4,139.70 L113.8,138.91 L114.2,138.70 L114.6,139.09 L115.0,139.75 L115.4,140.32 L115.8,140.58 L116.2,140.54 L116.6,140.29 L117.0,139.93 L117.4,139.51 L117.8,139.06 L118.2,138.57 L118.6,138.05 L119.0,137.51 L119.4,136.94 L119.8,136.36 L120.2,135.75 L120.6,135.14 L121.0,134.51 L121.4,133.89 L121.8,133.26 L122.2,132.65 L122.6,132.05 L123.0,131.47 L123.4,130.92 L123.8,130.40 L124.2,129.92 L124.6,129.49 L125.0,129.11 L125.4,128.78 L125.8,128.52 L126.2,128.31 L126.6,128.18 L127.0,128.11 L127.4,128.20 L127.8,128.94 L128.2,130.32 L128.6,132.15 L129.0,134.20 L129.4,136.26 L129.8,138.14 L130.2,139.74 L130.6,141.00 L131.0,141.93 L131.4,142.58 L131.8,143.01 L132.2,143.27 L132.6,143.43 L133.0,143.51" fill="none" stroke="#479536" stroke-width="0.7"/>
<path d="M109.8,134.23 L110.2,134.14 L110.6,133.99 L111.0,133.74 L111.4,133.38 L111.8,132.93 L112.2,132.43 L112.6,131.97 L113.0,131.66 L113.4,131.56 L113.8,131.53 L114.2,131.52 L114.6,131.52 L115.0,131.53 L115.4,131.54 L115.8,131.56 L116.2,131.58 L116.6,131.61 L117.0,131.63 L117.4,131.66 L117.8,131.70 L118.2,131.74 L118.6,131.78 L119.0,131.84 L119.4,131.92 L119.8,132.00 L120.2,132.10 L120.6,132.21 L121.0,132.32 L121.4,132.41 L121.8,132.47 L122.2,132.44 L122.6,132.29 L123.0,131.96 L123.4,131.38 L123.8,130.49 L124.2,129.28 L124.6,127.76 L125.0,125.99 L125.4,124.12 L125.8,122.34 L126.2,120.87 L126.6,119.90 L127.0,119.59 L127.4,119.97 L127.8,121.01 L128.2,122.57 L128.6,124.44 L129.0,126.41 L129.4,128.29 L129.8,129.94 L130.2,131.29 L130.6,132.32 L131.0,133.06 L131.4,133.56 L131.8,133.88 L132.2,134.07 L132.6,134.18 L132.6,134.30 L109.8,134.30 Z" fill="#eea032" fill-opacity="0.82"/>
<path d="M109.8,134.23 L110.2,134.14 L110.6,133.99 L111.0,133.74 L111.4,133.38 L111.8,132.93 L112.2,132.43 L112.6,131.97 L113.0,131.66 L113.4,131.56 L113.8,131.53 L114.2,131.52 L114.6,131.52 L115.0,131.53 L115.4,131.54 L115.8,131.56 L116.2,131.58 L116.6,131.61 L117.0,131.63 L117.4,131.66 L117.8,131.70 L118.2,131.74 L118.6,131.78 L119.0,131.84 L119.4,131.92 L119.8,132.00 L120.2,132.10 L120.6,132.21 L121.0,132.32 L121.4,132.41 L121.8,132.47 L122.2,132.44 L122.6,132.29 L123.0,131.96 L123.4,131.38 L123.8,130.49 L124.2,129.28 L124.6,127.76 L125.0,125.99 L125.4,124.12 L125.8,122.34 L126.2,120.87 L126.6,119.90 L127.0,119.59 L127.4,119.97 L127.8,121.01 L128.2,122.57 L128.6,124.44 L129.0,126.41 L129.4,128.29 L129.8,129.94 L130.2,131.29 L130.6,132.32 L131.0,133.06 L131.4,133.56 L131.8,133.88 L132.2,134.07 L132.6,134.18" fill="none" stroke="#cf8420" stroke-width="0.7"/>
<path d="M111.4,124.99 L111.8,124.94 L112.2,124.87 L112.6,124.79 L113.0,124.69 L113.4,124.58 L113.8,124.47 L114.2,124.37 L114.6,124.29 L115.0,124.23 L115.4,124.20 L115.8,124.21 L116.2,124.25 L116.6,124.33 L117.0,124.42 L117.4,124.53 L117.8,124.64 L118.2,124.74 L118.6,124.83 L119.0,124.91 L119.4,124.97 L119.8,125.01 L120.2,125.04 L120.6,125.07 L121.0,125.08 L121.4,125.09 L121.8,125.09 L122.2,125.10 L122.6,125.10 L123.0,125.10 L123.4,125.09 L123.8,125.07 L124.2,125.03 L124.6,124.94 L125.0,124.75 L125.4,124.44 L125.8,123.96 L126.2,123.31 L126.6,122.54 L127.0,121.69 L127.4,120.77 L127.8,119.72 L128.2,118.40 L128.6,116.75 L129.0,114.84 L129.4,112.99 L129.8,111.65 L130.2,111.26 L130.6,111.87 L131.0,113.26 L131.4,115.21 L131.8,117.40 L132.2,119.51 L132.6,121.32 L133.0,122.72 L133.4,123.70 L133.8,124.34 L134.2,124.71 L134.6,124.92 L135.0,125.02 L135.0,125.10 L111.4,125.10 Z" fill="#dc4a36" fill-opacity="0.82"/>
<path d="M111.4,124.99 L111.8,124.94 L112.2,124.87 L112.6,124.79 L113.0,124.69 L113.4,124.58 L113.8,124.47 L114.2,124.37 L114.6,124.29 L115.0,124.23 L115.4,124.20 L115.8,124.21 L116.2,124.25 L116.6,124.33 L117.0,124.42 L117.4,124.53 L117.8,124.64 L118.2,124.74 L118.6,124.83 L119.0,124.91 L119.4,124.97 L119.8,125.01 L120.2,125.04 L120.6,125.07 L121.0,125.08 L121.4,125.09 L121.8,125.09 L122.2,125.10 L122.6,125.10 L123.0,125.10 L123.4,125.09 L123.8,125.07 L124.2,125.03 L124.6,124.94 L125.0,124.75 L125.4,124.44 L125.8,123.96 L126.2,123.31 L126.6,122.54 L127.0,121.69 L127.4,120.77 L127.8,119.72 L128.2,118.40 L128.6,116.75 L129.0,114.84 L129.4,112.99 L129.8,111.65 L130.2,111.26 L130.6,111.87 L131.0,113.26 L131.4,115.21 L131.8,117.40 L132.2,119.51 L132.6,121.32 L133.0,122.72 L133.4,123.70 L133.8,124.34 L134.2,124.71 L134.6,124.92 L135.0,125.02" fill="none" stroke="#b0301f" stroke-width="0.7"/>
<line x1="107.40" y1="125.10" x2="150.70" y2="125.10" stroke="#e6b0ab" stroke-width="0.9" stroke-opacity="0.8"/>
<line x1="107.40" y1="134.30" x2="150.70" y2="134.30" stroke="#f2d0a2" stroke-width="0.9" stroke-opacity="0.8"/>
<line x1="107.40" y1="143.60" x2="150.70" y2="143.60" stroke="#bcdcb0" stroke-width="0.9" stroke-opacity="0.8"/>
<line x1="107.40" y1="152.80" x2="150.70" y2="152.80" stroke="#d9d9e1" stroke-width="0.9" stroke-opacity="0.8"/>
<line x1="107.40" y1="162.40" x2="150.70" y2="162.40" stroke="#b5bac8" stroke-width="0.9" stroke-opacity="0.8"/>
<line x1="107.40" y1="171.80" x2="150.70" y2="171.80" stroke="#b3badc" stroke-width="0.9" stroke-opacity="0.8"/>
<line x1="107.40" y1="181.20" x2="150.70" y2="181.20" stroke="#ccb6d8" stroke-width="0.9" stroke-opacity="0.8"/>
<path d="M158.3,181.12 L158.7,181.04 L159.1,180.91 L159.5,180.70 L159.9,180.35 L160.3,179.84 L160.7,179.10 L161.1,178.10 L161.5,176.83 L161.9,175.31 L162.3,173.60 L162.7,171.82 L163.1,170.12 L163.5,168.69 L163.9,167.68 L164.3,167.22 L164.7,167.36 L165.1,168.03 L165.5,169.17 L165.9,170.63 L166.3,172.28 L166.7,173.97 L167.1,175.57 L167.5,176.99 L167.9,178.17 L168.3,179.11 L168.7,179.81 L169.1,180.32 L169.5,180.66 L169.9,180.88 L170.3,181.02 L170.7,181.10 L170.7,181.20 L158.3,181.20 Z" fill="#7d4f98" fill-opacity="0.82"/>
<path d="M158.3,181.12 L158.7,181.04 L159.1,180.91 L159.5,180.70 L159.9,180.35 L160.3,179.84 L160.7,179.10 L161.1,178.10 L161.5,176.83 L161.9,175.31 L162.3,173.60 L162.7,171.82 L163.1,170.12 L163.5,168.69 L163.9,167.68 L164.3,167.22 L164.7,167.36 L165.1,168.03 L165.5,169.17 L165.9,170.63 L166.3,172.28 L166.7,173.97 L167.1,175.57 L167.5,176.99 L167.9,178.17 L168.3,179.11 L168.7,179.81 L169.1,180.32 L169.5,180.66 L169.9,180.88 L170.3,181.02 L170.7,181.10" fill="none" stroke="#5f377e" stroke-width="0.7"/>
<path d="M157.9,171.69 L158.3,171.58 L158.7,171.36 L159.1,171.00 L159.5,170.40 L159.9,169.50 L160.3,168.22 L160.7,166.52 L161.1,164.44 L161.5,162.09 L161.9,159.69 L162.3,157.50 L162.7,155.83 L163.1,154.92 L163.5,154.90 L163.9,155.72 L164.3,157.23 L164.7,159.24 L165.1,161.49 L165.5,163.74 L165.9,165.81 L166.3,167.56 L166.7,168.94 L167.1,169.97 L167.5,170.68 L167.9,171.15 L168.3,171.44 L168.7,171.61 L169.1,171.71 L169.1,171.80 L157.9,171.80 Z" fill="#3a4b98" fill-opacity="0.82"/>
<path d="M157.9,171.69 L158.3,171.58 L158.7,171.36 L159.1,171.00 L159.5,170.40 L159.9,169.50 L160.3,168.22 L160.7,166.52 L161.1,164.44 L161.5,162.09 L161.9,159.69 L162.3,157.50 L162.7,155.83 L163.1,154.92 L163.5,154.90 L163.9,155.72 L164.3,157.23 L164.7,159.24 L165.1,161.49 L165.5,163.74 L165.9,165.81 L166.3,167.56 L166.7,168.94 L167.1,169.97 L167.5,170.68 L167.9,171.15 L168.3,171.44 L168.7,171.61 L169.1,171.71" fill="none" stroke="#27357a" stroke-width="0.7"/>
<path d="M158.3,162.33 L158.7,162.26 L159.1,162.12 L159.5,161.86 L159.9,161.42 L160.3,160.71 L160.7,159.66 L161.1,158.20 L161.5,156.30 L161.9,154.01 L162.3,151.48 L162.7,148.96 L163.1,146.75 L163.5,145.16 L163.9,144.43 L164.3,144.65 L164.7,145.71 L165.1,147.47 L165.5,149.68 L165.9,152.09 L166.3,154.44 L166.7,156.56 L167.1,158.31 L167.5,159.68 L167.9,160.68 L168.3,161.36 L168.7,161.80 L169.1,162.07 L169.5,162.23 L169.9,162.32 L169.9,162.40 L158.3,162.40 Z" fill="#56617f" fill-opacity="0.82"/>
<path d="M158.3,162.33 L158.7,162.26 L159.1,162.12 L159.5,161.86 L159.9,161.42 L160.3,160.71 L160.7,159.66 L161.1,158.20 L161.5,156.30 L161.9,154.01 L162.3,151.48 L162.7,148.96 L163.1,146.75 L163.5,145.16 L163.9,144.43 L164.3,144.65 L164.7,145.71 L165.1,147.47 L165.5,149.68 L165.9,152.09 L166.3,154.44 L166.7,156.56 L167.1,158.31 L167.5,159.68 L167.9,160.68 L168.3,161.36 L168.7,161.80 L169.1,162.07 L169.5,162.23 L169.9,162.32" fill="none" stroke="#3e4863" stroke-width="0.7"/>
<path d="M159.5,152.69 L159.9,152.54 L160.3,152.22 L160.7,151.62 L161.1,150.58 L161.5,148.94 L161.9,146.63 L162.3,143.71 L162.7,140.45 L163.1,137.35 L163.5,134.97 L163.9,133.85 L164.3,134.18 L164.7,135.76 L165.1,138.28 L165.5,141.28 L165.9,144.28 L166.3,146.94 L166.7,149.04 L167.1,150.55 L167.5,151.55 L167.9,152.15 L168.3,152.49 L168.7,152.66 L169.1,152.74 L169.1,152.80 L159.5,152.80 Z" fill="#c9c9d5" fill-opacity="0.82"/>
<path d="M159.5,152.69 L159.9,152.54 L160.3,152.22 L160.7,151.62 L161.1,150.58 L161.5,148.94 L161.9,146.63 L162.3,143.71 L162.7,140.45 L163.1,137.35 L163.5,134.97 L163.9,133.85 L164.3,134.18 L164.7,135.76 L165.1,138.28 L165.5,141.28 L165.9,144.28 L166.3,146.94 L166.7,149.04 L167.1,150.55 L167.5,151.55 L167.9,152.15 L168.3,152.49 L168.7,152.66 L169.1,152.74" fill="none" stroke="#9d9daf" stroke-width="0.7"/>
<path d="M157.9,143.51 L158.3,143.41 L158.7,143.23 L159.1,142.91 L159.5,142.38 L159.9,141.56 L160.3,140.38 L160.7,138.78 L161.1,136.79 L161.5,134.50 L161.9,132.08 L162.3,129.81 L162.7,127.98 L163.1,126.86 L163.5,126.63 L163.9,127.24 L164.3,128.60 L164.7,130.50 L165.1,132.72 L165.5,134.99 L165.9,137.12 L166.3,138.96 L166.7,140.43 L167.1,141.54 L167.5,142.33 L167.9,142.85 L168.3,143.18 L168.7,143.38 L169.1,143.49 L169.1,143.60 L157.9,143.60 Z" fill="#6cb852" fill-opacity="0.82"/>
<path d="M157.9,143.51 L158.3,143.41 L158.7,143.23 L159.1,142.91 L159.5,142.38 L159.9,141.56 L160.3,140.38 L160.7,138.78 L161.1,136.79 L161.5,134.50 L161.9,132.08 L162.3,129.81 L162.7,127.98 L163.1,126.86 L163.5,126.63 L163.9,127.24 L164.3,128.60 L164.7,130.50 L165.1,132.72 L165.5,134.99 L165.9,137.12 L166.3,138.96 L166.7,140.43 L167.1,141.54 L167.5,142.33 L167.9,142.85 L168.3,143.18 L168.7,143.38 L169.1,143.49" fill="none" stroke="#479536" stroke-width="0.7"/>
<path d="M157.9,134.23 L158.3,134.14 L158.7,133.97 L159.1,133.66 L159.5,133.13 L159.9,132.27 L160.3,131.01 L160.7,129.28 L161.1,127.12 L161.5,124.63 L161.9,122.08 L162.3,119.79 L162.7,118.11 L163.1,117.33 L163.5,117.53 L163.9,118.54 L164.3,120.20 L164.7,122.29 L165.1,124.56 L165.5,126.79 L165.9,128.78 L166.3,130.44 L166.7,131.73 L167.1,132.67 L167.5,133.32 L167.9,133.74 L168.3,133.99 L168.7,134.14 L169.1,134.22 L169.1,134.30 L157.9,134.30 Z" fill="#eea032" fill-opacity="0.82"/>
<path d="M157.9,134.23 L158.3,134.14 L158.7,133.97 L159.1,133.66 L159.5,133.13 L159.9,132.27 L160.3,131.01 L160.7,129.28 L161.1,127.12 L161.5,124.63 L161.9,122.08 L162.3,119.79 L162.7,118.11 L163.1,117.33 L163.5,117.53 L163.9,118.54 L164.3,120.20 L164.7,122.29 L165.1,124.56 L165.5,126.79 L165.9,128.78 L166.3,130.44 L166.7,131.73 L167.1,132.67 L167.5,133.32 L167.9,133.74 L168.3,133.99 L168.7,134.14 L169.1,134.22" fill="none" stroke="#cf8420" stroke-width="0.7"/>
<path d="M158.7,125.00 L159.1,124.84 L159.5,124.50 L159.9,123.85 L160.3,122.74 L160.7,121.03 L161.1,118.71 L161.5,115.98 L161.9,113.24 L162.3,111.05 L162.7,109.88 L163.1,109.81 L163.5,110.38 L163.9,111.38 L164.3,112.55 L164.7,113.69 L165.1,114.69 L165.5,115.56 L165.9,116.39 L166.3,117.32 L166.7,118.45 L167.1,119.77 L167.5,121.13 L167.9,122.38 L168.3,123.39 L168.7,124.12 L169.1,124.59 L169.5,124.85 L169.9,124.99 L169.9,125.10 L158.7,125.10 Z" fill="#dc4a36" fill-opacity="0.82"/>
<path d="M158.7,125.00 L159.1,124.84 L159.5,124.50 L159.9,123.85 L160.3,122.74 L160.7,121.03 L161.1,118.71 L161.5,115.98 L161.9,113.24 L162.3,111.05 L162.7,109.88 L163.1,109.81 L163.5,110.38 L163.9,111.38 L164.3,112.55 L164.7,113.69 L165.1,114.69 L165.5,115.56 L165.9,116.39 L166.3,117.32 L166.7,118.45 L167.1,119.77 L167.5,121.13 L167.9,122.38 L168.3,123.39 L168.7,124.12 L169.1,124.59 L169.5,124.85 L169.9,124.99" fill="none" stroke="#b0301f" stroke-width="0.7"/>
<line x1="152.30" y1="125.10" x2="195.40" y2="125.10" stroke="#e6b0ab" stroke-width="0.9" stroke-opacity="0.8"/>
<line x1="152.30" y1="134.30" x2="195.40" y2="134.30" stroke="#f2d0a2" stroke-width="0.9" stroke-opacity="0.8"/>
<line x1="152.30" y1="143.60" x2="195.40" y2="143.60" stroke="#bcdcb0" stroke-width="0.9" stroke-opacity="0.8"/>
<line x1="152.30" y1="152.80" x2="195.40" y2="152.80" stroke="#d9d9e1" stroke-width="0.9" stroke-opacity="0.8"/>
<line x1="152.30" y1="162.40" x2="195.40" y2="162.40" stroke="#b5bac8" stroke-width="0.9" stroke-opacity="0.8"/>
<line x1="152.30" y1="171.80" x2="195.40" y2="171.80" stroke="#b3badc" stroke-width="0.9" stroke-opacity="0.8"/>
<line x1="152.30" y1="181.20" x2="195.40" y2="181.20" stroke="#ccb6d8" stroke-width="0.9" stroke-opacity="0.8"/>
<rect x="61.70" y="29.3" width="134.50" height="155.8" fill="none" stroke="#111" stroke-width="1.2"/>
<line x1="106.60" y1="29.50" x2="106.60" y2="185.10" stroke="#111" stroke-width="1.2"/>
<line x1="151.50" y1="29.50" x2="151.50" y2="185.10" stroke="#111" stroke-width="1.2"/>
<line x1="61.70" y1="107.40" x2="196.20" y2="107.40" stroke="#111" stroke-width="1.5"/>
<text x="58.80" y="46.90" font-size="6.5" fill="#2b2b2b" text-anchor="end">DN CD1a–</text>
<text x="58.80" y="125.10" font-size="6.5" fill="#2b2b2b" text-anchor="end">DN CD1a–</text>
<text x="58.80" y="55.50" font-size="6.5" fill="#2b2b2b" text-anchor="end">DN CD1a+</text>
<text x="58.80" y="133.80" font-size="6.5" fill="#2b2b2b" text-anchor="end">DN CD1a+</text>
<text x="58.80" y="64.20" font-size="6.5" fill="#2b2b2b" text-anchor="end">4ISP</text>
<text x="58.80" y="143.40" font-size="6.5" fill="#2b2b2b" text-anchor="end">4ISP</text>
<text x="58.80" y="72.70" font-size="6.5" fill="#2b2b2b" text-anchor="end">DP CD3low</text>
<text x="58.80" y="152.70" font-size="6.5" fill="#2b2b2b" text-anchor="end">DP CD3low</text>
<text x="58.80" y="81.50" font-size="6.5" fill="#2b2b2b" text-anchor="end">DP CD3+</text>
<text x="58.80" y="162.10" font-size="6.5" fill="#2b2b2b" text-anchor="end">DP CD3+</text>
<text x="58.80" y="90.00" font-size="6.5" fill="#2b2b2b" text-anchor="end">SP4</text>
<text x="58.80" y="171.40" font-size="6.5" fill="#2b2b2b" text-anchor="end">SP4</text>
<text x="58.80" y="98.60" font-size="6.5" fill="#2b2b2b" text-anchor="end">SP8</text>
<text x="58.80" y="181.00" font-size="6.5" fill="#2b2b2b" text-anchor="end">SP8</text>
<line x1="22.20" y1="32.30" x2="22.20" y2="103.50" stroke="#222" stroke-width="1.2"/>
<line x1="22.20" y1="110.40" x2="22.20" y2="181.80" stroke="#222" stroke-width="1.2"/>
<text x="17.40" y="68.00" font-size="6.5" fill="#2b2b2b" text-anchor="middle" transform="rotate(-90 17.40 68.00)">Thymus 1</text>
<text x="18.00" y="146.00" font-size="6.5" fill="#2b2b2b" text-anchor="middle" transform="rotate(-90 18.00 146.00)">Thymus 2</text>
<line x1="61.00" y1="189.80" x2="194.00" y2="189.80" stroke="#3a3a3a" stroke-width="1.3"/>
<path d="M100.50,188.0 L104.50,189.8 L100.50,191.6 Z" fill="#111"/>
<path d="M145.90,188.0 L149.90,189.8 L145.90,191.6 Z" fill="#111"/>
<path d="M191.60,188.0 L195.60,189.8 L191.60,191.6 Z" fill="#111"/>
<text x="83.90" y="198.40" font-size="6.0" fill="#2b2b2b" text-anchor="middle" textLength="21.20" lengthAdjust="spacingAndGlyphs">pSTAT5</text>
<text x="127.50" y="198.40" font-size="6.0" fill="#2b2b2b" text-anchor="middle" textLength="21.20" lengthAdjust="spacingAndGlyphs">pSTAT5</text>
<text x="172.30" y="198.40" font-size="6.0" fill="#2b2b2b" text-anchor="middle" textLength="21.20" lengthAdjust="spacingAndGlyphs">pSTAT5</text>
<text x="52.90" y="225.70" font-size="6.8" fill="#2b2b2b" textLength="17.80" lengthAdjust="spacingAndGlyphs">T-ALL</text>
<text x="71.00" y="222.90" font-size="4.7" fill="#2b2b2b" textLength="23.60" lengthAdjust="spacingAndGlyphs">IL7R–/low</text>
<text x="96.30" y="225.70" font-size="6.8" fill="#2b2b2b" textLength="25.00" lengthAdjust="spacingAndGlyphs">(n = 16)</text>
<text x="52.90" y="239.80" font-size="6.8" fill="#2e5e9c" textLength="17.80" lengthAdjust="spacingAndGlyphs">T-ALL</text>
<text x="71.00" y="237.00" font-size="4.7" fill="#2e5e9c" textLength="23.20" lengthAdjust="spacingAndGlyphs">IL7R+/WT</text>
<text x="95.90" y="239.80" font-size="6.8" fill="#2e5e9c" textLength="25.00" lengthAdjust="spacingAndGlyphs">(n = 17)</text>
<text x="52.90" y="254.00" font-size="6.8" fill="#c8203c" textLength="17.80" lengthAdjust="spacingAndGlyphs">T-ALL</text>
<text x="71.00" y="251.20" font-size="4.7" fill="#c8203c" textLength="10.40" lengthAdjust="spacingAndGlyphs">Mut</text>
<text x="83.10" y="254.00" font-size="6.8" fill="#c8203c" textLength="25.00" lengthAdjust="spacingAndGlyphs">(n = 13)</text>
<text x="252.80" y="31.20" font-size="6.8" fill="#2b2b2b" textLength="17.80" lengthAdjust="spacingAndGlyphs">T-ALL</text>
<text x="270.90" y="28.40" font-size="4.7" fill="#2b2b2b" textLength="23.60" lengthAdjust="spacingAndGlyphs">IL7R–/low</text>
<text x="296.20" y="31.20" font-size="6.8" fill="#2b2b2b" textLength="25.00" lengthAdjust="spacingAndGlyphs">(n = 14)</text>
<text x="252.80" y="45.00" font-size="6.8" fill="#2e5e9c" textLength="17.80" lengthAdjust="spacingAndGlyphs">T-ALL</text>
<text x="270.90" y="42.20" font-size="4.7" fill="#2e5e9c" textLength="23.20" lengthAdjust="spacingAndGlyphs">IL7R+/WT</text>
<text x="295.80" y="45.00" font-size="6.8" fill="#2e5e9c" textLength="25.00" lengthAdjust="spacingAndGlyphs">(n = 14)</text>
<text x="252.80" y="59.60" font-size="6.8" fill="#c8203c" textLength="17.80" lengthAdjust="spacingAndGlyphs">T-ALL</text>
<text x="270.90" y="56.80" font-size="4.7" fill="#c8203c" textLength="10.40" lengthAdjust="spacingAndGlyphs">Mut</text>
<text x="283.00" y="59.60" font-size="6.8" fill="#c8203c" textLength="25.00" lengthAdjust="spacingAndGlyphs">(n = 11)</text>
<text x="429.00" y="224.40" font-size="6.8" fill="#2b2b2b" textLength="17.80" lengthAdjust="spacingAndGlyphs">T-ALL</text>
<text x="447.10" y="221.60" font-size="4.7" fill="#2b2b2b" textLength="23.60" lengthAdjust="spacingAndGlyphs">IL7R–/low</text>
<text x="472.40" y="224.40" font-size="6.8" fill="#2b2b2b" textLength="21.00" lengthAdjust="spacingAndGlyphs">(n = 8)</text>
<text x="429.00" y="238.50" font-size="6.8" fill="#2e5e9c" textLength="17.80" lengthAdjust="spacingAndGlyphs">T-ALL</text>
<text x="447.10" y="235.70" font-size="4.7" fill="#2e5e9c" textLength="23.20" lengthAdjust="spacingAndGlyphs">IL7R+/WT</text>
<text x="472.00" y="238.50" font-size="6.8" fill="#2e5e9c" textLength="25.00" lengthAdjust="spacingAndGlyphs">(n = 13)</text>
<text x="429.00" y="252.90" font-size="6.8" fill="#c8203c" textLength="17.80" lengthAdjust="spacingAndGlyphs">T-ALL</text>
<text x="447.10" y="250.10" font-size="4.7" fill="#c8203c" textLength="10.40" lengthAdjust="spacingAndGlyphs">Mut</text>
<text x="459.20" y="252.90" font-size="6.8" fill="#c8203c" textLength="21.00" lengthAdjust="spacingAndGlyphs">(n = 9)</text>
<line x1="49.20" y1="263.00" x2="49.20" y2="353.90" stroke="#1e1e1e" stroke-width="1.2"/>
<line x1="48.60" y1="353.30" x2="154.00" y2="353.30" stroke="#1e1e1e" stroke-width="1.2"/>
<line x1="46.40" y1="353.30" x2="49.20" y2="353.30" stroke="#1e1e1e" stroke-width="0.9"/>
<text x="42.50" y="355.00" font-size="6.2" fill="#2b2b2b" text-anchor="end">0</text>
<line x1="47.60" y1="344.55" x2="49.20" y2="344.55" stroke="#1e1e1e" stroke-width="0.9"/>
<line x1="46.40" y1="335.80" x2="49.20" y2="335.80" stroke="#1e1e1e" stroke-width="0.9"/>
<text x="42.50" y="337.50" font-size="6.2" fill="#2b2b2b" text-anchor="end">20</text>
<line x1="47.60" y1="327.05" x2="49.20" y2="327.05" stroke="#1e1e1e" stroke-width="0.9"/>
<line x1="46.40" y1="318.30" x2="49.20" y2="318.30" stroke="#1e1e1e" stroke-width="0.9"/>
<text x="42.50" y="320.00" font-size="6.2" fill="#2b2b2b" text-anchor="end">40</text>
<line x1="47.60" y1="309.55" x2="49.20" y2="309.55" stroke="#1e1e1e" stroke-width="0.9"/>
<line x1="46.40" y1="300.80" x2="49.20" y2="300.80" stroke="#1e1e1e" stroke-width="0.9"/>
<text x="42.50" y="302.50" font-size="6.2" fill="#2b2b2b" text-anchor="end">60</text>
<line x1="47.60" y1="292.05" x2="49.20" y2="292.05" stroke="#1e1e1e" stroke-width="0.9"/>
<line x1="46.40" y1="283.30" x2="49.20" y2="283.30" stroke="#1e1e1e" stroke-width="0.9"/>
<text x="42.50" y="285.00" font-size="6.2" fill="#2b2b2b" text-anchor="end">80</text>
<line x1="47.60" y1="274.55" x2="49.20" y2="274.55" stroke="#1e1e1e" stroke-width="0.9"/>
<line x1="46.40" y1="265.80" x2="49.20" y2="265.80" stroke="#1e1e1e" stroke-width="0.9"/>
<text x="42.50" y="267.50" font-size="6.2" fill="#2b2b2b" text-anchor="end">100</text>
<line x1="49.20" y1="335.80" x2="154.00" y2="335.80" stroke="#888" stroke-width="0.8" stroke-dasharray="0.9 1.1"/>
<line x1="75.30" y1="353.30" x2="75.30" y2="355.90" stroke="#333" stroke-width="0.8"/>
<line x1="126.50" y1="353.30" x2="126.50" y2="355.90" stroke="#333" stroke-width="0.8"/>
<text x="18.80" y="308.00" font-size="6.3" fill="#2b2b2b" text-anchor="middle" textLength="33.00" lengthAdjust="spacingAndGlyphs" transform="rotate(-90 18.80 308.00)">IL7R/CD127</text>
<text x="28.10" y="309.30" font-size="6.3" fill="#2b2b2b" text-anchor="middle" textLength="62.50" lengthAdjust="spacingAndGlyphs" transform="rotate(-90 28.10 309.30)">(% Surface expression)</text>
<circle cx="75.20" cy="336.90" r="1.1" fill="#bdbdbd"/>
<circle cx="75.20" cy="339.30" r="1.1" fill="#bdbdbd"/>
<circle cx="75.20" cy="343.50" r="1.1" fill="#bdbdbd"/>
<circle cx="75.20" cy="346.10" r="1.1" fill="#bdbdbd"/>
<circle cx="75.20" cy="349.20" r="1.1" fill="#bdbdbd"/>
<circle cx="75.20" cy="351.60" r="1.1" fill="#bdbdbd"/>
<circle cx="71.10" cy="343.60" r="1.1" fill="#bdbdbd"/>
<circle cx="71.10" cy="347.80" r="1.1" fill="#bdbdbd"/>
<circle cx="71.10" cy="350.90" r="1.1" fill="#bdbdbd"/>
<circle cx="80.00" cy="341.50" r="1.1" fill="#bdbdbd"/>
<circle cx="80.00" cy="344.70" r="1.1" fill="#bdbdbd"/>
<circle cx="80.00" cy="349.00" r="1.1" fill="#bdbdbd"/>
<circle cx="80.00" cy="351.60" r="1.1" fill="#bdbdbd"/>
<circle cx="84.50" cy="347.20" r="1.1" fill="#bdbdbd"/>
<circle cx="84.50" cy="351.40" r="1.1" fill="#bdbdbd"/>
<circle cx="66.80" cy="351.50" r="1.1" fill="#bdbdbd"/>
<circle cx="71.20" cy="272.80" r="1.2" fill="#1d3f73"/>
<circle cx="75.80" cy="272.80" r="1.2" fill="#1d3f73"/>
<circle cx="71.20" cy="278.10" r="1.2" fill="#1d3f73"/>
<circle cx="75.80" cy="279.90" r="1.2" fill="#1d3f73"/>
<circle cx="79.90" cy="278.10" r="1.2" fill="#1d3f73"/>
<circle cx="71.20" cy="285.70" r="1.2" fill="#1d3f73"/>
<circle cx="71.20" cy="289.20" r="1.2" fill="#1d3f73"/>
<circle cx="79.90" cy="287.30" r="1.2" fill="#1d3f73"/>
<circle cx="79.90" cy="289.60" r="1.2" fill="#1d3f73"/>
<circle cx="71.20" cy="296.80" r="1.2" fill="#1d3f73"/>
<circle cx="75.80" cy="298.20" r="1.2" fill="#1d3f73"/>
<circle cx="75.80" cy="310.80" r="1.2" fill="#1d3f73"/>
<circle cx="79.90" cy="309.50" r="1.2" fill="#1d3f73"/>
<circle cx="75.80" cy="319.20" r="1.2" fill="#1d3f73"/>
<circle cx="75.80" cy="321.90" r="1.2" fill="#1d3f73"/>
<circle cx="79.90" cy="318.70" r="1.2" fill="#1d3f73"/>
<circle cx="75.80" cy="331.20" r="1.2" fill="#1d3f73"/>
<circle cx="121.50" cy="267.00" r="1.2" fill="#9b1530"/>
<circle cx="125.80" cy="265.80" r="1.2" fill="#9b1530"/>
<circle cx="130.20" cy="265.80" r="1.2" fill="#9b1530"/>
<circle cx="134.20" cy="267.20" r="1.2" fill="#9b1530"/>
<circle cx="125.80" cy="269.70" r="1.2" fill="#9b1530"/>
<circle cx="130.20" cy="274.60" r="1.2" fill="#9b1530"/>
<circle cx="125.80" cy="282.00" r="1.2" fill="#9b1530"/>
<circle cx="130.20" cy="288.40" r="1.2" fill="#9b1530"/>
<circle cx="125.80" cy="294.40" r="1.2" fill="#9b1530"/>
<circle cx="125.80" cy="298.80" r="1.2" fill="#9b1530"/>
<circle cx="125.90" cy="304.30" r="1.2" fill="#9b1530"/>
<circle cx="125.90" cy="335.60" r="1.2" fill="#9b1530"/>
<circle cx="125.90" cy="352.90" r="1.2" fill="#9b1530"/>
<g transform="translate(75.2,363.4) rotate(-45)"><text x="0" y="0" font-size="6.6" fill="#2b2b2b" text-anchor="end">IL7-Rp<tspan font-size="4.2" dy="-2.9" dx="0.6">WT</tspan></text><text x="1.0" y="7.8" font-size="6.6" fill="#2b2b2b" text-anchor="end">(n = 33)</text></g>
<g transform="translate(126.2,363.4) rotate(-45)"><text x="0" y="0" font-size="6.6" fill="#2b2b2b" text-anchor="end">IL7-Rp<tspan font-size="4.2" dy="-2.9" dx="0.6">MUT</tspan></text><text x="1.0" y="7.8" font-size="6.6" fill="#2b2b2b" text-anchor="end">(n = 13)</text></g>
<line x1="253.00" y1="64.60" x2="253.00" y2="158.00" stroke="#1e1e1e" stroke-width="1.3"/>
<line x1="252.40" y1="157.40" x2="320.00" y2="157.40" stroke="#1e1e1e" stroke-width="1.3"/>
<line x1="250.40" y1="79.90" x2="253.00" y2="79.90" stroke="#1e1e1e" stroke-width="0.9"/>
<text x="244.50" y="82.40" font-size="6.6" fill="#2b2b2b" text-anchor="end">10</text>
<text x="245.40" y="79.60" font-size="4.4" fill="#2b2b2b">4</text>
<line x1="250.40" y1="117.00" x2="253.00" y2="117.00" stroke="#1e1e1e" stroke-width="0.9"/>
<text x="244.50" y="119.50" font-size="6.6" fill="#2b2b2b" text-anchor="end">10</text>
<text x="245.40" y="116.70" font-size="4.4" fill="#2b2b2b">3</text>
<line x1="250.40" y1="154.10" x2="253.00" y2="154.10" stroke="#1e1e1e" stroke-width="0.9"/>
<text x="244.50" y="156.60" font-size="6.6" fill="#2b2b2b" text-anchor="end">10</text>
<text x="245.40" y="153.80" font-size="4.4" fill="#2b2b2b">2</text>
<line x1="263.90" y1="157.40" x2="263.90" y2="160.00" stroke="#1e1e1e" stroke-width="0.9"/>
<line x1="285.80" y1="157.40" x2="285.80" y2="160.00" stroke="#1e1e1e" stroke-width="0.9"/>
<line x1="308.00" y1="157.40" x2="308.00" y2="160.00" stroke="#1e1e1e" stroke-width="0.9"/>
<text x="263.90" y="169.20" font-size="6.2" fill="#444" text-anchor="middle">–</text>
<text x="263.90" y="179.00" font-size="6.2" fill="#444" text-anchor="middle">–</text>
<text x="285.80" y="169.20" font-size="6.2" fill="#444" text-anchor="middle">+</text>
<text x="285.80" y="179.00" font-size="6.2" fill="#444" text-anchor="middle">–</text>
<text x="308.00" y="169.20" font-size="6.2" fill="#444" text-anchor="middle">+</text>
<text x="308.00" y="179.00" font-size="6.2" fill="#444" text-anchor="middle">+</text>
<line x1="354.50" y1="63.50" x2="354.50" y2="157.60" stroke="#1e1e1e" stroke-width="1.3"/>
<line x1="353.90" y1="157.00" x2="420.00" y2="157.00" stroke="#1e1e1e" stroke-width="1.3"/>
<line x1="351.90" y1="78.50" x2="354.50" y2="78.50" stroke="#1e1e1e" stroke-width="0.9"/>
<text x="346.00" y="81.00" font-size="6.6" fill="#2b2b2b" text-anchor="end">10</text>
<text x="346.90" y="78.20" font-size="4.4" fill="#2b2b2b">4</text>
<line x1="351.90" y1="115.80" x2="354.50" y2="115.80" stroke="#1e1e1e" stroke-width="0.9"/>
<text x="346.00" y="118.30" font-size="6.6" fill="#2b2b2b" text-anchor="end">10</text>
<text x="346.90" y="115.50" font-size="4.4" fill="#2b2b2b">3</text>
<line x1="351.90" y1="153.10" x2="354.50" y2="153.10" stroke="#1e1e1e" stroke-width="0.9"/>
<text x="346.00" y="155.60" font-size="6.6" fill="#2b2b2b" text-anchor="end">10</text>
<text x="346.90" y="152.80" font-size="4.4" fill="#2b2b2b">2</text>
<line x1="364.60" y1="157.00" x2="364.60" y2="159.60" stroke="#1e1e1e" stroke-width="0.9"/>
<line x1="386.10" y1="157.00" x2="386.10" y2="159.60" stroke="#1e1e1e" stroke-width="0.9"/>
<line x1="408.00" y1="157.00" x2="408.00" y2="159.60" stroke="#1e1e1e" stroke-width="0.9"/>
<text x="364.60" y="169.20" font-size="6.2" fill="#444" text-anchor="middle">–</text>
<text x="364.60" y="179.00" font-size="6.2" fill="#444" text-anchor="middle">–</text>
<text x="386.10" y="169.20" font-size="6.2" fill="#444" text-anchor="middle">+</text>
<text x="386.10" y="179.00" font-size="6.2" fill="#444" text-anchor="middle">–</text>
<text x="408.00" y="169.20" font-size="6.2" fill="#444" text-anchor="middle">+</text>
<text x="408.00" y="179.00" font-size="6.2" fill="#444" text-anchor="middle">+</text>
<line x1="449.50" y1="65.00" x2="449.50" y2="157.40" stroke="#1e1e1e" stroke-width="1.3"/>
<line x1="448.90" y1="156.80" x2="513.30" y2="156.80" stroke="#1e1e1e" stroke-width="1.3"/>
<line x1="446.90" y1="79.40" x2="449.50" y2="79.40" stroke="#1e1e1e" stroke-width="0.9"/>
<text x="441.00" y="81.90" font-size="6.6" fill="#2b2b2b" text-anchor="end">10</text>
<text x="441.90" y="79.10" font-size="4.4" fill="#2b2b2b">4</text>
<line x1="446.90" y1="116.20" x2="449.50" y2="116.20" stroke="#1e1e1e" stroke-width="0.9"/>
<text x="441.00" y="118.70" font-size="6.6" fill="#2b2b2b" text-anchor="end">10</text>
<text x="441.90" y="115.90" font-size="4.4" fill="#2b2b2b">3</text>
<line x1="446.90" y1="152.20" x2="449.50" y2="152.20" stroke="#1e1e1e" stroke-width="0.9"/>
<text x="441.00" y="154.70" font-size="6.6" fill="#2b2b2b" text-anchor="end">10</text>
<text x="441.90" y="151.90" font-size="4.4" fill="#2b2b2b">2</text>
<line x1="460.30" y1="156.80" x2="460.30" y2="159.40" stroke="#1e1e1e" stroke-width="0.9"/>
<line x1="481.50" y1="156.80" x2="481.50" y2="159.40" stroke="#1e1e1e" stroke-width="0.9"/>
<line x1="502.20" y1="156.80" x2="502.20" y2="159.40" stroke="#1e1e1e" stroke-width="0.9"/>
<text x="460.30" y="169.20" font-size="6.2" fill="#444" text-anchor="middle">–</text>
<text x="460.30" y="179.00" font-size="6.2" fill="#444" text-anchor="middle">–</text>
<text x="481.50" y="169.20" font-size="6.2" fill="#444" text-anchor="middle">+</text>
<text x="481.50" y="179.00" font-size="6.2" fill="#444" text-anchor="middle">–</text>
<text x="502.20" y="169.20" font-size="6.2" fill="#444" text-anchor="middle">+</text>
<text x="502.20" y="179.00" font-size="6.2" fill="#444" text-anchor="middle">+</text>
<text x="246.60" y="169.30" font-size="6.3" fill="#2b2b2b" text-anchor="end" textLength="9.60" lengthAdjust="spacingAndGlyphs">IL-7</text>
<text x="246.60" y="179.10" font-size="6.3" fill="#2b2b2b" text-anchor="end" textLength="29.60" lengthAdjust="spacingAndGlyphs">Ruxolitinib</text>
<text x="233.30" y="110.80" font-size="6.3" fill="#2b2b2b" text-anchor="middle" textLength="38.50" lengthAdjust="spacingAndGlyphs" transform="rotate(-90 233.30 110.80)">pSTAT5 (MFI)</text>
<circle cx="264.00" cy="123.30" r="0.85" fill="#cfcfcf"/>
<circle cx="264.00" cy="131.50" r="0.85" fill="#cfcfcf"/>
<circle cx="262.00" cy="136.00" r="0.85" fill="#cfcfcf"/>
<circle cx="266.00" cy="138.50" r="0.85" fill="#cfcfcf"/>
<circle cx="264.00" cy="144.50" r="0.85" fill="#cfcfcf"/>
<circle cx="262.60" cy="150.80" r="0.85" fill="#cfcfcf"/>
<circle cx="265.40" cy="150.80" r="0.85" fill="#cfcfcf"/>
<circle cx="264.00" cy="153.70" r="0.85" fill="#cfcfcf"/>
<circle cx="264.00" cy="156.00" r="0.85" fill="#cfcfcf"/>
<circle cx="264.00" cy="141.00" r="0.85" fill="#cfcfcf"/>
<circle cx="262.00" cy="147.00" r="0.85" fill="#cfcfcf"/>
<circle cx="266.00" cy="133.00" r="0.85" fill="#cfcfcf"/>
<circle cx="264.00" cy="127.00" r="0.85" fill="#cfcfcf"/>
<circle cx="266.00" cy="146.00" r="0.85" fill="#cfcfcf"/>
<circle cx="282.30" cy="115.60" r="0.85" fill="#cfcfcf"/>
<circle cx="285.90" cy="115.60" r="0.85" fill="#cfcfcf"/>
<circle cx="283.30" cy="119.10" r="0.85" fill="#cfcfcf"/>
<circle cx="285.90" cy="118.40" r="0.85" fill="#cfcfcf"/>
<circle cx="283.00" cy="138.10" r="0.85" fill="#cfcfcf"/>
<circle cx="283.00" cy="145.20" r="0.85" fill="#cfcfcf"/>
<circle cx="289.00" cy="143.80" r="0.85" fill="#cfcfcf"/>
<circle cx="285.90" cy="152.20" r="0.85" fill="#cfcfcf"/>
<circle cx="285.90" cy="124.00" r="0.85" fill="#cfcfcf"/>
<circle cx="287.50" cy="131.00" r="0.85" fill="#cfcfcf"/>
<circle cx="284.00" cy="128.00" r="0.85" fill="#cfcfcf"/>
<circle cx="286.00" cy="134.00" r="0.85" fill="#cfcfcf"/>
<circle cx="285.90" cy="148.50" r="0.85" fill="#cfcfcf"/>
<circle cx="284.00" cy="122.00" r="0.85" fill="#cfcfcf"/>
<circle cx="308.10" cy="122.60" r="0.85" fill="#cfcfcf"/>
<circle cx="308.10" cy="126.20" r="0.85" fill="#cfcfcf"/>
<circle cx="305.00" cy="134.50" r="0.85" fill="#cfcfcf"/>
<circle cx="311.20" cy="132.00" r="0.85" fill="#cfcfcf"/>
<circle cx="308.10" cy="136.70" r="0.85" fill="#cfcfcf"/>
<circle cx="305.00" cy="145.20" r="0.85" fill="#cfcfcf"/>
<circle cx="311.20" cy="148.00" r="0.85" fill="#cfcfcf"/>
<circle cx="308.10" cy="152.00" r="0.85" fill="#cfcfcf"/>
<circle cx="308.10" cy="155.00" r="0.85" fill="#cfcfcf"/>
<circle cx="305.50" cy="141.00" r="0.85" fill="#cfcfcf"/>
<circle cx="310.50" cy="139.50" r="0.85" fill="#cfcfcf"/>
<circle cx="308.10" cy="129.50" r="0.85" fill="#cfcfcf"/>
<circle cx="308.10" cy="144.00" r="0.85" fill="#cfcfcf"/>
<circle cx="306.00" cy="150.00" r="0.85" fill="#cfcfcf"/>
<line x1="256.80" y1="136.80" x2="271.20" y2="136.80" stroke="#cbcbcb" stroke-width="1.2"/>
<line x1="264.00" y1="129.60" x2="264.00" y2="150.80" stroke="#cbcbcb" stroke-width="1.2"/>
<line x1="260.80" y1="129.60" x2="267.20" y2="129.60" stroke="#cbcbcb" stroke-width="1.2"/>
<line x1="260.80" y1="150.80" x2="267.20" y2="150.80" stroke="#cbcbcb" stroke-width="1.2"/>
<line x1="278.50" y1="128.40" x2="293.30" y2="128.40" stroke="#cbcbcb" stroke-width="1.2"/>
<line x1="285.90" y1="119.30" x2="285.90" y2="150.20" stroke="#cbcbcb" stroke-width="1.2"/>
<line x1="282.70" y1="119.30" x2="289.10" y2="119.30" stroke="#cbcbcb" stroke-width="1.2"/>
<line x1="282.70" y1="150.20" x2="289.10" y2="150.20" stroke="#cbcbcb" stroke-width="1.2"/>
<line x1="301.30" y1="136.80" x2="314.90" y2="136.80" stroke="#cbcbcb" stroke-width="1.2"/>
<line x1="308.10" y1="129.30" x2="308.10" y2="153.00" stroke="#cbcbcb" stroke-width="1.2"/>
<line x1="304.90" y1="129.30" x2="311.30" y2="129.30" stroke="#cbcbcb" stroke-width="1.2"/>
<line x1="304.90" y1="153.00" x2="311.30" y2="153.00" stroke="#cbcbcb" stroke-width="1.2"/>
<circle cx="364.70" cy="119.80" r="1.15" fill="#1d3c6c"/>
<circle cx="364.70" cy="122.40" r="1.15" fill="#1d3c6c"/>
<circle cx="364.70" cy="127.80" r="1.15" fill="#1d3c6c"/>
<circle cx="364.70" cy="133.60" r="1.15" fill="#1d3c6c"/>
<circle cx="363.00" cy="138.00" r="1.15" fill="#1d3c6c"/>
<circle cx="366.40" cy="138.00" r="1.15" fill="#1d3c6c"/>
<circle cx="364.70" cy="141.70" r="1.15" fill="#1d3c6c"/>
<circle cx="364.70" cy="145.30" r="1.15" fill="#1d3c6c"/>
<circle cx="361.80" cy="149.70" r="1.15" fill="#1d3c6c"/>
<circle cx="367.70" cy="149.70" r="1.15" fill="#1d3c6c"/>
<circle cx="364.70" cy="152.00" r="1.15" fill="#1d3c6c"/>
<circle cx="362.00" cy="153.50" r="1.15" fill="#1d3c6c"/>
<circle cx="367.00" cy="153.00" r="1.15" fill="#1d3c6c"/>
<circle cx="364.70" cy="136.00" r="1.15" fill="#1d3c6c"/>
<circle cx="385.90" cy="72.30" r="1.15" fill="#1d3c6c"/>
<circle cx="385.90" cy="75.20" r="1.15" fill="#1d3c6c"/>
<circle cx="385.90" cy="78.40" r="1.15" fill="#1d3c6c"/>
<circle cx="384.20" cy="81.60" r="1.15" fill="#1d3c6c"/>
<circle cx="387.80" cy="81.60" r="1.15" fill="#1d3c6c"/>
<circle cx="385.90" cy="84.00" r="1.15" fill="#1d3c6c"/>
<circle cx="385.90" cy="89.30" r="1.15" fill="#1d3c6c"/>
<circle cx="385.90" cy="96.60" r="1.15" fill="#1d3c6c"/>
<circle cx="382.50" cy="102.70" r="1.15" fill="#1d3c6c"/>
<circle cx="385.90" cy="102.70" r="1.15" fill="#1d3c6c"/>
<circle cx="389.60" cy="102.70" r="1.15" fill="#1d3c6c"/>
<circle cx="385.90" cy="110.00" r="1.15" fill="#1d3c6c"/>
<circle cx="385.90" cy="114.90" r="1.15" fill="#1d3c6c"/>
<circle cx="388.00" cy="87.00" r="1.15" fill="#1d3c6c"/>
<circle cx="407.30" cy="111.70" r="1.15" fill="#1d3c6c"/>
<circle cx="407.30" cy="117.30" r="1.15" fill="#1d3c6c"/>
<circle cx="407.30" cy="125.40" r="1.15" fill="#1d3c6c"/>
<circle cx="404.90" cy="130.70" r="1.15" fill="#1d3c6c"/>
<circle cx="409.80" cy="130.70" r="1.15" fill="#1d3c6c"/>
<circle cx="407.30" cy="135.00" r="1.15" fill="#1d3c6c"/>
<circle cx="404.90" cy="143.40" r="1.15" fill="#1d3c6c"/>
<circle cx="409.80" cy="143.40" r="1.15" fill="#1d3c6c"/>
<circle cx="404.90" cy="146.50" r="1.15" fill="#1d3c6c"/>
<circle cx="411.00" cy="146.50" r="1.15" fill="#1d3c6c"/>
<circle cx="407.30" cy="150.70" r="1.15" fill="#1d3c6c"/>
<circle cx="407.30" cy="139.00" r="1.15" fill="#1d3c6c"/>
<circle cx="409.00" cy="127.00" r="1.15" fill="#1d3c6c"/>
<circle cx="405.50" cy="134.00" r="1.15" fill="#1d3c6c"/>
<line x1="357.70" y1="136.30" x2="371.70" y2="136.30" stroke="#3d6aa5" stroke-width="0.9"/>
<line x1="364.70" y1="133.20" x2="364.70" y2="139.70" stroke="#3d6aa5" stroke-width="0.9"/>
<line x1="361.50" y1="133.20" x2="367.90" y2="133.20" stroke="#3d6aa5" stroke-width="0.9"/>
<line x1="361.50" y1="139.70" x2="367.90" y2="139.70" stroke="#3d6aa5" stroke-width="0.9"/>
<line x1="378.90" y1="85.70" x2="392.90" y2="85.70" stroke="#3d6aa5" stroke-width="0.9"/>
<line x1="385.90" y1="82.00" x2="385.90" y2="88.90" stroke="#3d6aa5" stroke-width="0.9"/>
<line x1="382.70" y1="82.00" x2="389.10" y2="82.00" stroke="#3d6aa5" stroke-width="0.9"/>
<line x1="382.70" y1="88.90" x2="389.10" y2="88.90" stroke="#3d6aa5" stroke-width="0.9"/>
<line x1="400.40" y1="131.20" x2="414.20" y2="131.20" stroke="#3d6aa5" stroke-width="0.9"/>
<line x1="407.30" y1="127.80" x2="407.30" y2="136.10" stroke="#3d6aa5" stroke-width="0.9"/>
<line x1="404.10" y1="127.80" x2="410.50" y2="127.80" stroke="#3d6aa5" stroke-width="0.9"/>
<line x1="404.10" y1="136.10" x2="410.50" y2="136.10" stroke="#3d6aa5" stroke-width="0.9"/>
<line x1="362.60" y1="65.60" x2="385.00" y2="65.60" stroke="#333" stroke-width="0.9"/>
<line x1="385.80" y1="65.60" x2="406.50" y2="65.60" stroke="#333" stroke-width="0.9"/>
<line x1="362.60" y1="62.60" x2="362.60" y2="68.60" stroke="#333" stroke-width="0.9"/>
<line x1="406.50" y1="62.60" x2="406.50" y2="68.60" stroke="#333" stroke-width="0.9"/>
<rect x="384.30" y="62.40" width="2.20" height="6.20" fill="#a9a9a9"/>
<text x="373.80" y="66.10" font-size="7" fill="#333" text-anchor="middle">****</text>
<text x="396.60" y="66.10" font-size="7" fill="#333" text-anchor="middle">**</text>
<circle cx="460.30" cy="97.30" r="1.15" fill="#c00f30"/>
<circle cx="460.30" cy="104.20" r="1.15" fill="#c00f30"/>
<circle cx="458.50" cy="111.60" r="1.15" fill="#c00f30"/>
<circle cx="462.30" cy="111.60" r="1.15" fill="#c00f30"/>
<circle cx="460.30" cy="117.00" r="1.15" fill="#c00f30"/>
<circle cx="457.30" cy="120.80" r="1.15" fill="#c00f30"/>
<circle cx="461.90" cy="120.80" r="1.15" fill="#c00f30"/>
<circle cx="457.30" cy="124.50" r="1.15" fill="#c00f30"/>
<circle cx="461.90" cy="124.50" r="1.15" fill="#c00f30"/>
<circle cx="460.30" cy="126.80" r="1.15" fill="#c00f30"/>
<circle cx="460.30" cy="138.30" r="1.15" fill="#c00f30"/>
<circle cx="478.20" cy="69.60" r="1.15" fill="#c00f30"/>
<circle cx="484.60" cy="69.20" r="1.15" fill="#c00f30"/>
<circle cx="481.20" cy="78.00" r="1.15" fill="#c00f30"/>
<circle cx="479.50" cy="81.50" r="1.15" fill="#c00f30"/>
<circle cx="483.00" cy="84.00" r="1.15" fill="#c00f30"/>
<circle cx="481.20" cy="88.00" r="1.15" fill="#c00f30"/>
<circle cx="481.20" cy="94.70" r="1.15" fill="#c00f30"/>
<circle cx="481.20" cy="101.60" r="1.15" fill="#c00f30"/>
<circle cx="481.20" cy="105.40" r="1.15" fill="#c00f30"/>
<circle cx="479.00" cy="86.00" r="1.15" fill="#c00f30"/>
<circle cx="502.20" cy="101.90" r="1.15" fill="#c00f30"/>
<circle cx="502.20" cy="115.30" r="1.15" fill="#c00f30"/>
<circle cx="499.50" cy="123.80" r="1.15" fill="#c00f30"/>
<circle cx="504.90" cy="123.80" r="1.15" fill="#c00f30"/>
<circle cx="499.50" cy="127.30" r="1.15" fill="#c00f30"/>
<circle cx="504.90" cy="127.30" r="1.15" fill="#c00f30"/>
<circle cx="502.20" cy="130.70" r="1.15" fill="#c00f30"/>
<circle cx="502.20" cy="134.20" r="1.15" fill="#c00f30"/>
<circle cx="502.20" cy="137.60" r="1.15" fill="#c00f30"/>
<circle cx="502.20" cy="140.60" r="1.15" fill="#c00f30"/>
<line x1="453.80" y1="114.10" x2="466.80" y2="114.10" stroke="#c8102e" stroke-width="0.9"/>
<line x1="460.30" y1="111.10" x2="460.30" y2="118.00" stroke="#c8102e" stroke-width="0.9"/>
<line x1="457.10" y1="111.10" x2="463.50" y2="111.10" stroke="#c8102e" stroke-width="0.9"/>
<line x1="457.10" y1="118.00" x2="463.50" y2="118.00" stroke="#c8102e" stroke-width="0.9"/>
<line x1="474.30" y1="83.20" x2="488.10" y2="83.20" stroke="#c8102e" stroke-width="0.9"/>
<line x1="481.20" y1="80.00" x2="481.20" y2="86.50" stroke="#c8102e" stroke-width="0.9"/>
<line x1="478.00" y1="80.00" x2="484.40" y2="80.00" stroke="#c8102e" stroke-width="0.9"/>
<line x1="478.00" y1="86.50" x2="484.40" y2="86.50" stroke="#c8102e" stroke-width="0.9"/>
<line x1="495.50" y1="122.20" x2="508.90" y2="122.20" stroke="#c8102e" stroke-width="0.9"/>
<line x1="502.20" y1="118.00" x2="502.20" y2="127.30" stroke="#c8102e" stroke-width="0.9"/>
<line x1="499.00" y1="118.00" x2="505.40" y2="118.00" stroke="#c8102e" stroke-width="0.9"/>
<line x1="499.00" y1="127.30" x2="505.40" y2="127.30" stroke="#c8102e" stroke-width="0.9"/>
<line x1="458.00" y1="59.90" x2="480.30" y2="59.90" stroke="#333" stroke-width="0.9"/>
<line x1="482.80" y1="59.90" x2="503.40" y2="59.90" stroke="#333" stroke-width="0.9"/>
<line x1="458.00" y1="56.60" x2="458.00" y2="62.80" stroke="#333" stroke-width="0.9"/>
<line x1="480.30" y1="56.60" x2="480.30" y2="62.80" stroke="#333" stroke-width="0.9"/>
<line x1="482.80" y1="56.60" x2="482.80" y2="62.80" stroke="#333" stroke-width="0.9"/>
<line x1="503.40" y1="56.60" x2="503.40" y2="62.80" stroke="#333" stroke-width="0.9"/>
<text x="468.90" y="60.00" font-size="7" fill="#333" text-anchor="middle">*</text>
<text x="493.00" y="60.00" font-size="7" fill="#333" text-anchor="middle">***</text>
<line x1="211.80" y1="258.50" x2="211.80" y2="353.80" stroke="#1e1e1e" stroke-width="1.3"/>
<line x1="211.20" y1="353.20" x2="320.40" y2="353.20" stroke="#1e1e1e" stroke-width="1.3"/>
<line x1="209.20" y1="261.30" x2="211.80" y2="261.30" stroke="#1e1e1e" stroke-width="0.9"/>
<text x="200.90" y="263.80" font-size="6.6" fill="#2b2b2b" text-anchor="end">10</text>
<text x="201.80" y="261.00" font-size="4.4" fill="#2b2b2b">3</text>
<line x1="209.20" y1="279.70" x2="211.80" y2="279.70" stroke="#1e1e1e" stroke-width="0.9"/>
<text x="200.90" y="282.20" font-size="6.6" fill="#2b2b2b" text-anchor="end">10</text>
<text x="201.80" y="279.40" font-size="4.4" fill="#2b2b2b">2</text>
<line x1="209.20" y1="298.00" x2="211.80" y2="298.00" stroke="#1e1e1e" stroke-width="0.9"/>
<text x="200.90" y="300.50" font-size="6.6" fill="#2b2b2b" text-anchor="end">10</text>
<text x="201.80" y="297.70" font-size="4.4" fill="#2b2b2b">1</text>
<line x1="209.20" y1="316.60" x2="211.80" y2="316.60" stroke="#1e1e1e" stroke-width="0.9"/>
<text x="200.90" y="319.10" font-size="6.6" fill="#2b2b2b" text-anchor="end">10</text>
<text x="201.80" y="316.30" font-size="4.4" fill="#2b2b2b">0</text>
<line x1="209.20" y1="334.80" x2="211.80" y2="334.80" stroke="#1e1e1e" stroke-width="0.9"/>
<text x="200.90" y="337.30" font-size="6.6" fill="#2b2b2b" text-anchor="end">10</text>
<text x="201.80" y="334.50" font-size="4.4" fill="#2b2b2b">−1</text>
<line x1="209.20" y1="352.70" x2="211.80" y2="352.70" stroke="#1e1e1e" stroke-width="0.9"/>
<text x="200.90" y="355.20" font-size="6.6" fill="#2b2b2b" text-anchor="end">10</text>
<text x="201.80" y="352.40" font-size="4.4" fill="#2b2b2b">−2</text>
<text x="190.30" y="305.00" font-size="6.3" fill="#2b2b2b" text-anchor="middle" textLength="82.70" lengthAdjust="spacingAndGlyphs" transform="rotate(-90 190.30 305.00)">CISH expression (fold change)</text>
<rect x="215.40" y="316.60" width="6.80" height="36.60" fill="#c4c4c7"/>
<rect x="225.10" y="305.50" width="6.70" height="47.70" fill="#c4c4c7"/>
<line x1="228.45" y1="303.60" x2="228.45" y2="306.00" stroke="#c4c4c7" stroke-width="0.8"/>
<line x1="226.85" y1="303.60" x2="230.05" y2="303.60" stroke="#c4c4c7" stroke-width="0.8"/>
<rect x="236.00" y="323.30" width="6.80" height="29.90" fill="#c4c4c7"/>
<line x1="239.40" y1="321.60" x2="239.40" y2="323.80" stroke="#c4c4c7" stroke-width="0.8"/>
<line x1="237.80" y1="321.60" x2="241.00" y2="321.60" stroke="#c4c4c7" stroke-width="0.8"/>
<rect x="252.80" y="316.60" width="6.30" height="36.60" fill="#0e4b85"/>
<rect x="262.90" y="276.80" width="6.50" height="76.40" fill="#0e4b85"/>
<line x1="266.15" y1="275.20" x2="266.15" y2="277.30" stroke="#0e4b85" stroke-width="0.8"/>
<line x1="264.55" y1="275.20" x2="267.75" y2="275.20" stroke="#0e4b85" stroke-width="0.8"/>
<rect x="273.10" y="335.10" width="6.30" height="18.10" fill="#0e4b85"/>
<line x1="276.25" y1="331.60" x2="276.25" y2="335.60" stroke="#0e4b85" stroke-width="0.8"/>
<line x1="274.65" y1="331.60" x2="277.85" y2="331.60" stroke="#0e4b85" stroke-width="0.8"/>
<rect x="290.00" y="316.80" width="6.30" height="36.40" fill="#cc0c2c"/>
<rect x="300.00" y="303.10" width="6.50" height="50.10" fill="#cc0c2c"/>
<line x1="303.25" y1="300.90" x2="303.25" y2="303.60" stroke="#cc0c2c" stroke-width="0.8"/>
<line x1="301.65" y1="300.90" x2="304.85" y2="300.90" stroke="#cc0c2c" stroke-width="0.8"/>
<rect x="310.30" y="328.00" width="6.50" height="25.20" fill="#cc0c2c"/>
<line x1="313.55" y1="325.50" x2="313.55" y2="328.50" stroke="#cc0c2c" stroke-width="0.8"/>
<line x1="311.95" y1="325.50" x2="315.15" y2="325.50" stroke="#cc0c2c" stroke-width="0.8"/>
<line x1="218.80" y1="297.30" x2="229.00" y2="297.30" stroke="#262626" stroke-width="0.9"/>
<line x1="229.00" y1="294.40" x2="239.50" y2="294.40" stroke="#262626" stroke-width="0.9"/>
<line x1="218.80" y1="296.85" x2="218.80" y2="314.60" stroke="#262626" stroke-width="0.9"/>
<line x1="229.00" y1="293.95" x2="229.00" y2="300.50" stroke="#262626" stroke-width="0.9"/>
<line x1="239.50" y1="293.95" x2="239.50" y2="322.00" stroke="#262626" stroke-width="0.9"/>
<text x="223.90" y="294.60" font-size="6.3" fill="#262626" text-anchor="middle">ns</text>
<text x="234.25" y="291.40" font-size="6.3" fill="#262626" text-anchor="middle">ns</text>
<line x1="256.00" y1="264.10" x2="265.90" y2="264.10" stroke="#262626" stroke-width="0.9"/>
<line x1="265.90" y1="271.40" x2="276.30" y2="271.40" stroke="#262626" stroke-width="0.9"/>
<line x1="256.00" y1="263.65" x2="256.00" y2="310.40" stroke="#262626" stroke-width="0.9"/>
<line x1="265.90" y1="263.65" x2="265.90" y2="273.50" stroke="#262626" stroke-width="0.9"/>
<line x1="276.30" y1="270.95" x2="276.30" y2="303.90" stroke="#262626" stroke-width="0.9"/>
<text x="260.95" y="263.80" font-size="7" fill="#262626" text-anchor="middle">***</text>
<text x="271.10" y="272.50" font-size="7" fill="#262626" text-anchor="middle">***</text>
<line x1="293.10" y1="292.70" x2="303.20" y2="292.70" stroke="#262626" stroke-width="0.9"/>
<line x1="303.20" y1="289.20" x2="313.60" y2="289.20" stroke="#262626" stroke-width="0.9"/>
<line x1="293.10" y1="292.25" x2="293.10" y2="315.60" stroke="#262626" stroke-width="0.9"/>
<line x1="303.20" y1="288.75" x2="303.20" y2="299.60" stroke="#262626" stroke-width="0.9"/>
<line x1="313.60" y1="288.75" x2="313.60" y2="323.80" stroke="#262626" stroke-width="0.9"/>
<text x="298.15" y="293.70" font-size="7" fill="#262626" text-anchor="middle">**</text>
<text x="308.40" y="290.20" font-size="7" fill="#262626" text-anchor="middle">**</text>
<line x1="218.80" y1="353.20" x2="218.80" y2="355.80" stroke="#1e1e1e" stroke-width="0.9"/>
<text x="218.80" y="363.80" font-size="6.2" fill="#444" text-anchor="middle">–</text>
<text x="218.80" y="374.40" font-size="6.2" fill="#444" text-anchor="middle">–</text>
<line x1="228.90" y1="353.20" x2="228.90" y2="355.80" stroke="#1e1e1e" stroke-width="0.9"/>
<text x="228.90" y="363.80" font-size="6.2" fill="#444" text-anchor="middle">+</text>
<text x="228.90" y="374.40" font-size="6.2" fill="#444" text-anchor="middle">–</text>
<line x1="239.40" y1="353.20" x2="239.40" y2="355.80" stroke="#1e1e1e" stroke-width="0.9"/>
<text x="239.40" y="363.80" font-size="6.2" fill="#444" text-anchor="middle">+</text>
<text x="239.40" y="374.40" font-size="6.2" fill="#444" text-anchor="middle">+</text>
<line x1="255.90" y1="353.20" x2="255.90" y2="355.80" stroke="#1e1e1e" stroke-width="0.9"/>
<text x="255.90" y="363.80" font-size="6.2" fill="#444" text-anchor="middle">–</text>
<text x="255.90" y="374.40" font-size="6.2" fill="#444" text-anchor="middle">–</text>
<line x1="266.10" y1="353.20" x2="266.10" y2="355.80" stroke="#1e1e1e" stroke-width="0.9"/>
<text x="266.10" y="363.80" font-size="6.2" fill="#444" text-anchor="middle">+</text>
<text x="266.10" y="374.40" font-size="6.2" fill="#444" text-anchor="middle">–</text>
<line x1="276.20" y1="353.20" x2="276.20" y2="355.80" stroke="#1e1e1e" stroke-width="0.9"/>
<text x="276.20" y="363.80" font-size="6.2" fill="#444" text-anchor="middle">+</text>
<text x="276.20" y="374.40" font-size="6.2" fill="#444" text-anchor="middle">+</text>
<line x1="293.10" y1="353.20" x2="293.10" y2="355.80" stroke="#1e1e1e" stroke-width="0.9"/>
<text x="293.10" y="363.80" font-size="6.2" fill="#444" text-anchor="middle">–</text>
<text x="293.10" y="374.40" font-size="6.2" fill="#444" text-anchor="middle">–</text>
<line x1="303.20" y1="353.20" x2="303.20" y2="355.80" stroke="#1e1e1e" stroke-width="0.9"/>
<text x="303.20" y="363.80" font-size="6.2" fill="#444" text-anchor="middle">+</text>
<text x="303.20" y="374.40" font-size="6.2" fill="#444" text-anchor="middle">–</text>
<line x1="313.50" y1="353.20" x2="313.50" y2="355.80" stroke="#1e1e1e" stroke-width="0.9"/>
<text x="313.50" y="363.80" font-size="6.2" fill="#444" text-anchor="middle">+</text>
<text x="313.50" y="374.40" font-size="6.2" fill="#444" text-anchor="middle">+</text>
<text x="205.60" y="363.80" font-size="6.3" fill="#2b2b2b" text-anchor="end" textLength="9.80" lengthAdjust="spacingAndGlyphs">IL-7</text>
<text x="205.80" y="374.90" font-size="6.3" fill="#2b2b2b" text-anchor="end" textLength="29.60" lengthAdjust="spacingAndGlyphs">Ruxolitinib</text>
<line x1="372.10" y1="260.80" x2="372.10" y2="353.80" stroke="#1e1e1e" stroke-width="1.3"/>
<line x1="371.50" y1="353.30" x2="498.60" y2="353.30" stroke="#1e1e1e" stroke-width="1.3"/>
<line x1="369.30" y1="353.30" x2="372.10" y2="353.30" stroke="#1e1e1e" stroke-width="0.9"/>
<text x="366.80" y="355.50" font-size="6.2" fill="#2b2b2b" text-anchor="end">0</text>
<line x1="369.30" y1="323.30" x2="372.10" y2="323.30" stroke="#1e1e1e" stroke-width="0.9"/>
<text x="366.80" y="325.50" font-size="6.2" fill="#2b2b2b" text-anchor="end">5</text>
<line x1="369.30" y1="293.30" x2="372.10" y2="293.30" stroke="#1e1e1e" stroke-width="0.9"/>
<text x="366.80" y="295.50" font-size="6.2" fill="#2b2b2b" text-anchor="end">10</text>
<line x1="369.30" y1="263.30" x2="372.10" y2="263.30" stroke="#1e1e1e" stroke-width="0.9"/>
<text x="366.80" y="265.50" font-size="6.2" fill="#2b2b2b" text-anchor="end">15</text>
<text x="355.30" y="306.70" font-size="6.3" fill="#2b2b2b" text-anchor="middle" textLength="81.90" lengthAdjust="spacingAndGlyphs" transform="rotate(-90 355.30 306.70)">PIM expression (fold change)</text>
<rect x="376.20" y="347.30" width="7.30" height="6.00" fill="#c4c4c7"/>
<rect x="388.20" y="343.20" width="7.60" height="10.10" fill="#c4c4c7"/>
<line x1="392.00" y1="341.00" x2="392.00" y2="343.70" stroke="#c4c4c7" stroke-width="0.8"/>
<line x1="390.40" y1="341.00" x2="393.60" y2="341.00" stroke="#c4c4c7" stroke-width="0.8"/>
<rect x="399.90" y="349.20" width="7.70" height="4.10" fill="#c4c4c7"/>
<rect x="419.90" y="347.30" width="7.40" height="6.00" fill="#0e4b85"/>
<rect x="432.20" y="305.50" width="7.20" height="47.80" fill="#0e4b85"/>
<line x1="435.80" y1="290.00" x2="435.80" y2="306.00" stroke="#0e4b85" stroke-width="0.8"/>
<line x1="434.20" y1="290.00" x2="437.40" y2="290.00" stroke="#0e4b85" stroke-width="0.8"/>
<path d="M443.8,353.3 Q447.4,350.6 451.0,353.3 Z" fill="#0e4b85"/>
<rect x="463.30" y="347.30" width="7.60" height="6.00" fill="#cc0c2c"/>
<rect x="475.20" y="339.90" width="7.50" height="13.40" fill="#cc0c2c"/>
<line x1="478.95" y1="338.20" x2="478.95" y2="340.40" stroke="#cc0c2c" stroke-width="0.8"/>
<line x1="477.35" y1="338.20" x2="480.55" y2="338.20" stroke="#cc0c2c" stroke-width="0.8"/>
<path d="M487.4,353.3 L487.6,351.2 Q491.1,350.2 494.6,351.2 L494.8,353.3 Z" fill="#cc0c2c"/>
<line x1="379.60" y1="332.30" x2="391.60" y2="332.30" stroke="#262626" stroke-width="0.9"/>
<line x1="391.60" y1="332.30" x2="403.80" y2="332.30" stroke="#262626" stroke-width="0.9"/>
<line x1="379.60" y1="331.85" x2="379.60" y2="340.40" stroke="#262626" stroke-width="0.9"/>
<line x1="391.60" y1="331.85" x2="391.60" y2="338.00" stroke="#262626" stroke-width="0.9"/>
<line x1="403.80" y1="331.85" x2="403.80" y2="340.20" stroke="#262626" stroke-width="0.9"/>
<text x="385.60" y="329.80" font-size="6.3" fill="#262626" text-anchor="middle">ns</text>
<text x="397.70" y="329.80" font-size="6.3" fill="#262626" text-anchor="middle">ns</text>
<line x1="421.80" y1="276.20" x2="435.40" y2="276.20" stroke="#262626" stroke-width="0.9"/>
<line x1="435.40" y1="280.30" x2="449.60" y2="280.30" stroke="#262626" stroke-width="0.9"/>
<line x1="421.80" y1="275.75" x2="421.80" y2="346.00" stroke="#262626" stroke-width="0.9"/>
<line x1="435.40" y1="275.75" x2="435.40" y2="287.00" stroke="#262626" stroke-width="0.9"/>
<line x1="449.60" y1="279.85" x2="449.60" y2="339.00" stroke="#262626" stroke-width="0.9"/>
<text x="428.60" y="276.70" font-size="7" fill="#262626" text-anchor="middle">***</text>
<text x="442.50" y="281.30" font-size="7" fill="#262626" text-anchor="middle">***</text>
<line x1="466.20" y1="328.70" x2="478.70" y2="328.70" stroke="#262626" stroke-width="0.9"/>
<line x1="478.70" y1="328.70" x2="490.80" y2="328.70" stroke="#262626" stroke-width="0.9"/>
<line x1="466.20" y1="328.25" x2="466.20" y2="342.20" stroke="#262626" stroke-width="0.9"/>
<line x1="478.70" y1="328.25" x2="478.70" y2="334.70" stroke="#262626" stroke-width="0.9"/>
<line x1="490.80" y1="328.25" x2="490.80" y2="341.60" stroke="#262626" stroke-width="0.9"/>
<text x="472.45" y="329.20" font-size="7" fill="#262626" text-anchor="middle">**</text>
<text x="484.75" y="329.20" font-size="7" fill="#262626" text-anchor="middle">**</text>
<line x1="379.60" y1="353.30" x2="379.60" y2="355.90" stroke="#1e1e1e" stroke-width="0.9"/>
<text x="379.60" y="365.10" font-size="6.2" fill="#444" text-anchor="middle">–</text>
<text x="379.60" y="374.90" font-size="6.2" fill="#444" text-anchor="middle">–</text>
<line x1="391.80" y1="353.30" x2="391.80" y2="355.90" stroke="#1e1e1e" stroke-width="0.9"/>
<text x="391.80" y="365.10" font-size="6.2" fill="#444" text-anchor="middle">+</text>
<text x="391.80" y="374.90" font-size="6.2" fill="#444" text-anchor="middle">–</text>
<line x1="403.60" y1="353.30" x2="403.60" y2="355.90" stroke="#1e1e1e" stroke-width="0.9"/>
<text x="403.60" y="365.10" font-size="6.2" fill="#444" text-anchor="middle">+</text>
<text x="403.60" y="374.90" font-size="6.2" fill="#444" text-anchor="middle">+</text>
<line x1="423.50" y1="353.30" x2="423.50" y2="355.90" stroke="#1e1e1e" stroke-width="0.9"/>
<text x="423.50" y="365.10" font-size="6.2" fill="#444" text-anchor="middle">–</text>
<text x="423.50" y="374.90" font-size="6.2" fill="#444" text-anchor="middle">–</text>
<line x1="435.60" y1="353.30" x2="435.60" y2="355.90" stroke="#1e1e1e" stroke-width="0.9"/>
<text x="435.60" y="365.10" font-size="6.2" fill="#444" text-anchor="middle">+</text>
<text x="435.60" y="374.90" font-size="6.2" fill="#444" text-anchor="middle">–</text>
<line x1="447.30" y1="353.30" x2="447.30" y2="355.90" stroke="#1e1e1e" stroke-width="0.9"/>
<text x="447.30" y="365.10" font-size="6.2" fill="#444" text-anchor="middle">+</text>
<text x="447.30" y="374.90" font-size="6.2" fill="#444" text-anchor="middle">+</text>
<line x1="467.10" y1="353.30" x2="467.10" y2="355.90" stroke="#1e1e1e" stroke-width="0.9"/>
<text x="467.10" y="365.10" font-size="6.2" fill="#444" text-anchor="middle">–</text>
<text x="467.10" y="374.90" font-size="6.2" fill="#444" text-anchor="middle">–</text>
<line x1="478.90" y1="353.30" x2="478.90" y2="355.90" stroke="#1e1e1e" stroke-width="0.9"/>
<text x="478.90" y="365.10" font-size="6.2" fill="#444" text-anchor="middle">+</text>
<text x="478.90" y="374.90" font-size="6.2" fill="#444" text-anchor="middle">–</text>
<line x1="490.80" y1="353.30" x2="490.80" y2="355.90" stroke="#1e1e1e" stroke-width="0.9"/>
<text x="490.80" y="365.10" font-size="6.2" fill="#444" text-anchor="middle">+</text>
<text x="490.80" y="374.90" font-size="6.2" fill="#444" text-anchor="middle">+</text>
<text x="365.20" y="365.20" font-size="6.3" fill="#2b2b2b" text-anchor="end" textLength="9.80" lengthAdjust="spacingAndGlyphs">IL-7</text>
<text x="365.80" y="374.10" font-size="6.3" fill="#2b2b2b" text-anchor="end" textLength="29.60" lengthAdjust="spacingAndGlyphs">Ruxolitinib</text>
</svg>
</body></html>
